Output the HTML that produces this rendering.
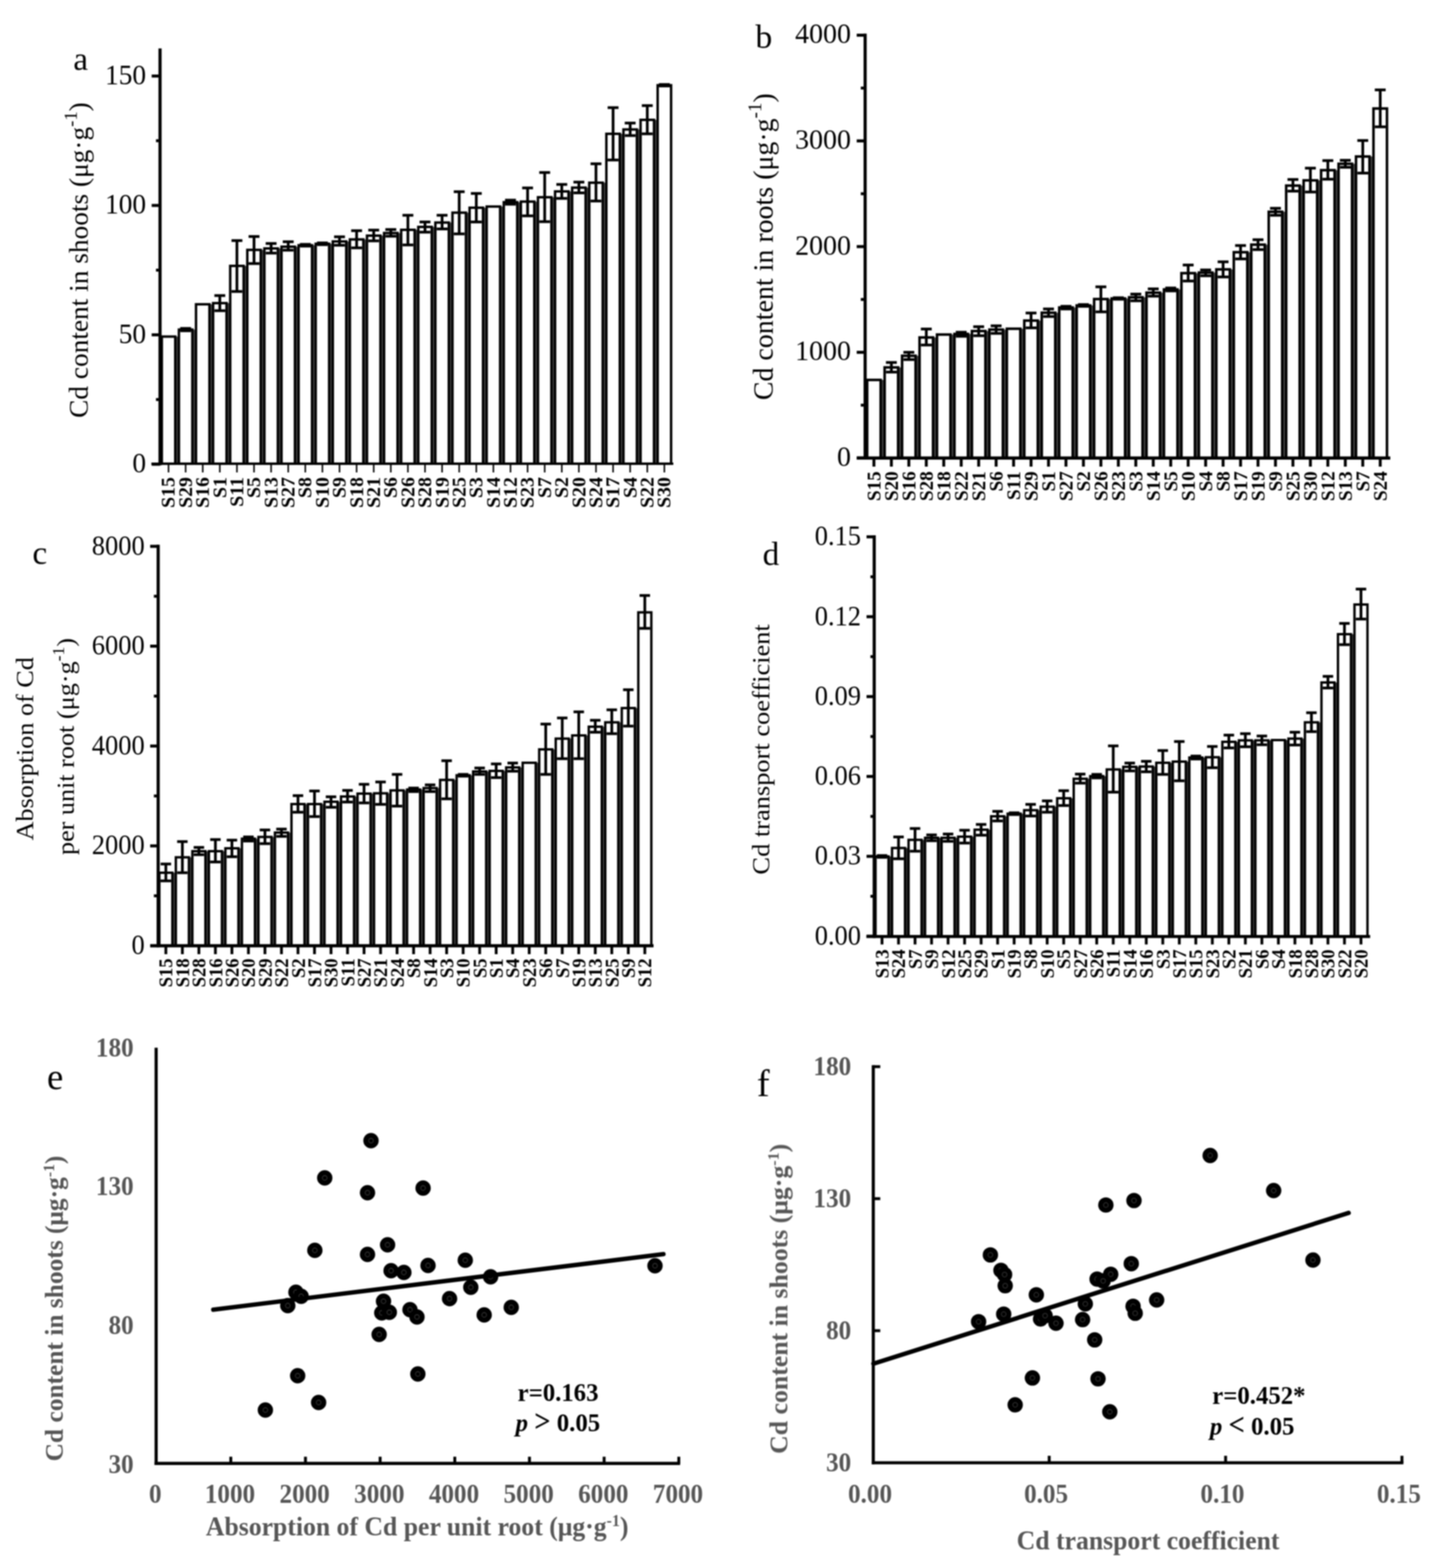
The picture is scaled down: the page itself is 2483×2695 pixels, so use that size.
<!DOCTYPE html>
<html lang="en">
<head>
<meta charset="utf-8">
<title>Cd content figure</title>
<style>
html,body{margin:0;padding:0;background:#fff;}
body{width:2483px;height:2695px;overflow:hidden;}
svg{display:block;font-family:'Liberation Serif','Times New Roman',Times,serif;}
</style>
</head>
<body>
<svg width="2483" height="2695" viewBox="0 0 2483 2695">
<defs><filter id="soft" color-interpolation-filters="sRGB" x="0" y="0" width="2483" height="2695" filterUnits="userSpaceOnUse"><feGaussianBlur stdDeviation="0.8"/></filter></defs>
<rect x="0" y="0" width="2483" height="2695" fill="#fff"/>
<g filter="url(#soft)">
<rect x="301.15" y="578.50" width="6.28" height="218.50" fill="#4a4a4a"/><rect x="330.53" y="566.50" width="6.28" height="230.50" fill="#4a4a4a"/><rect x="359.91" y="523.00" width="6.28" height="274.00" fill="#4a4a4a"/><rect x="389.29" y="521.00" width="6.28" height="276.00" fill="#4a4a4a"/><rect x="418.67" y="457.00" width="6.28" height="340.00" fill="#4a4a4a"/><rect x="448.05" y="429.50" width="6.28" height="367.50" fill="#4a4a4a"/><rect x="477.43" y="427.00" width="6.28" height="370.00" fill="#4a4a4a"/><rect x="506.81" y="424.00" width="6.28" height="373.00" fill="#4a4a4a"/><rect x="536.19" y="421.50" width="6.28" height="375.50" fill="#4a4a4a"/><rect x="565.57" y="419.00" width="6.28" height="378.00" fill="#4a4a4a"/><rect x="594.95" y="415.00" width="6.28" height="382.00" fill="#4a4a4a"/><rect x="624.33" y="411.50" width="6.28" height="385.50" fill="#4a4a4a"/><rect x="653.71" y="405.00" width="6.28" height="392.00" fill="#4a4a4a"/><rect x="683.09" y="400.50" width="6.28" height="396.50" fill="#4a4a4a"/><rect x="712.47" y="395.00" width="6.28" height="402.00" fill="#4a4a4a"/><rect x="741.85" y="390.00" width="6.28" height="407.00" fill="#4a4a4a"/><rect x="771.23" y="382.50" width="6.28" height="414.50" fill="#4a4a4a"/><rect x="800.61" y="365.50" width="6.28" height="431.50" fill="#4a4a4a"/><rect x="829.99" y="357.00" width="6.28" height="440.00" fill="#4a4a4a"/><rect x="859.37" y="355.00" width="6.28" height="442.00" fill="#4a4a4a"/><rect x="888.75" y="347.50" width="6.28" height="449.50" fill="#4a4a4a"/><rect x="918.13" y="346.50" width="6.28" height="450.50" fill="#4a4a4a"/><rect x="947.51" y="339.00" width="6.28" height="458.00" fill="#4a4a4a"/><rect x="976.89" y="329.00" width="6.28" height="468.00" fill="#4a4a4a"/><rect x="1006.27" y="322.50" width="6.28" height="474.50" fill="#4a4a4a"/><rect x="1035.65" y="314.00" width="6.28" height="483.00" fill="#4a4a4a"/><rect x="1065.03" y="230.00" width="6.28" height="567.00" fill="#4a4a4a"/><rect x="1094.41" y="222.50" width="6.28" height="574.50" fill="#4a4a4a"/><rect x="1123.79" y="206.00" width="6.28" height="591.00" fill="#4a4a4a"/><rect x="278.05" y="578.50" width="23.10" height="218.50" fill="#fff" stroke="#000" stroke-width="4.2"/><rect x="307.43" y="566.50" width="23.10" height="230.50" fill="#fff" stroke="#000" stroke-width="4.2"/><line x1="318.98" y1="564.50" x2="318.98" y2="568.50" stroke="#000" stroke-width="4.7" stroke-linecap="butt"/><line x1="309.63" y1="564.50" x2="328.33" y2="564.50" stroke="#000" stroke-width="4.7" stroke-linecap="butt"/><line x1="309.63" y1="568.50" x2="328.33" y2="568.50" stroke="#000" stroke-width="4.7" stroke-linecap="butt"/><rect x="336.81" y="523.00" width="23.10" height="274.00" fill="#fff" stroke="#000" stroke-width="4.2"/><rect x="366.19" y="521.00" width="23.10" height="276.00" fill="#fff" stroke="#000" stroke-width="4.2"/><line x1="377.74" y1="508.00" x2="377.74" y2="534.00" stroke="#000" stroke-width="4.7" stroke-linecap="butt"/><line x1="368.39" y1="508.00" x2="387.09" y2="508.00" stroke="#000" stroke-width="4.7" stroke-linecap="butt"/><line x1="368.39" y1="534.00" x2="387.09" y2="534.00" stroke="#000" stroke-width="4.7" stroke-linecap="butt"/><rect x="395.57" y="457.00" width="23.10" height="340.00" fill="#fff" stroke="#000" stroke-width="4.2"/><line x1="407.12" y1="413.50" x2="407.12" y2="501.00" stroke="#000" stroke-width="4.7" stroke-linecap="butt"/><line x1="397.77" y1="413.50" x2="416.47" y2="413.50" stroke="#000" stroke-width="4.7" stroke-linecap="butt"/><line x1="397.77" y1="501.00" x2="416.47" y2="501.00" stroke="#000" stroke-width="4.7" stroke-linecap="butt"/><rect x="424.95" y="429.50" width="23.10" height="367.50" fill="#fff" stroke="#000" stroke-width="4.2"/><line x1="436.50" y1="406.50" x2="436.50" y2="453.00" stroke="#000" stroke-width="4.7" stroke-linecap="butt"/><line x1="427.15" y1="406.50" x2="445.85" y2="406.50" stroke="#000" stroke-width="4.7" stroke-linecap="butt"/><line x1="427.15" y1="453.00" x2="445.85" y2="453.00" stroke="#000" stroke-width="4.7" stroke-linecap="butt"/><rect x="454.33" y="427.00" width="23.10" height="370.00" fill="#fff" stroke="#000" stroke-width="4.2"/><line x1="465.88" y1="418.50" x2="465.88" y2="435.00" stroke="#000" stroke-width="4.7" stroke-linecap="butt"/><line x1="456.53" y1="418.50" x2="475.23" y2="418.50" stroke="#000" stroke-width="4.7" stroke-linecap="butt"/><line x1="456.53" y1="435.00" x2="475.23" y2="435.00" stroke="#000" stroke-width="4.7" stroke-linecap="butt"/><rect x="483.71" y="424.00" width="23.10" height="373.00" fill="#fff" stroke="#000" stroke-width="4.2"/><line x1="495.26" y1="415.50" x2="495.26" y2="430.00" stroke="#000" stroke-width="4.7" stroke-linecap="butt"/><line x1="485.91" y1="415.50" x2="504.61" y2="415.50" stroke="#000" stroke-width="4.7" stroke-linecap="butt"/><line x1="485.91" y1="430.00" x2="504.61" y2="430.00" stroke="#000" stroke-width="4.7" stroke-linecap="butt"/><rect x="513.09" y="421.50" width="23.10" height="375.50" fill="#fff" stroke="#000" stroke-width="4.2"/><line x1="524.64" y1="420.00" x2="524.64" y2="423.00" stroke="#000" stroke-width="4.7" stroke-linecap="butt"/><line x1="515.29" y1="420.00" x2="533.99" y2="420.00" stroke="#000" stroke-width="4.7" stroke-linecap="butt"/><line x1="515.29" y1="423.00" x2="533.99" y2="423.00" stroke="#000" stroke-width="4.7" stroke-linecap="butt"/><rect x="542.47" y="419.00" width="23.10" height="378.00" fill="#fff" stroke="#000" stroke-width="4.2"/><line x1="554.02" y1="417.50" x2="554.02" y2="420.50" stroke="#000" stroke-width="4.7" stroke-linecap="butt"/><line x1="544.67" y1="417.50" x2="563.37" y2="417.50" stroke="#000" stroke-width="4.7" stroke-linecap="butt"/><line x1="544.67" y1="420.50" x2="563.37" y2="420.50" stroke="#000" stroke-width="4.7" stroke-linecap="butt"/><rect x="571.85" y="415.00" width="23.10" height="382.00" fill="#fff" stroke="#000" stroke-width="4.2"/><line x1="583.40" y1="407.00" x2="583.40" y2="421.50" stroke="#000" stroke-width="4.7" stroke-linecap="butt"/><line x1="574.05" y1="407.00" x2="592.75" y2="407.00" stroke="#000" stroke-width="4.7" stroke-linecap="butt"/><line x1="574.05" y1="421.50" x2="592.75" y2="421.50" stroke="#000" stroke-width="4.7" stroke-linecap="butt"/><rect x="601.23" y="411.50" width="23.10" height="385.50" fill="#fff" stroke="#000" stroke-width="4.2"/><line x1="612.78" y1="396.50" x2="612.78" y2="426.00" stroke="#000" stroke-width="4.7" stroke-linecap="butt"/><line x1="603.43" y1="396.50" x2="622.13" y2="396.50" stroke="#000" stroke-width="4.7" stroke-linecap="butt"/><line x1="603.43" y1="426.00" x2="622.13" y2="426.00" stroke="#000" stroke-width="4.7" stroke-linecap="butt"/><rect x="630.61" y="405.00" width="23.10" height="392.00" fill="#fff" stroke="#000" stroke-width="4.2"/><line x1="642.16" y1="395.50" x2="642.16" y2="414.00" stroke="#000" stroke-width="4.7" stroke-linecap="butt"/><line x1="632.81" y1="395.50" x2="651.51" y2="395.50" stroke="#000" stroke-width="4.7" stroke-linecap="butt"/><line x1="632.81" y1="414.00" x2="651.51" y2="414.00" stroke="#000" stroke-width="4.7" stroke-linecap="butt"/><rect x="659.99" y="400.50" width="23.10" height="396.50" fill="#fff" stroke="#000" stroke-width="4.2"/><line x1="671.54" y1="394.50" x2="671.54" y2="406.00" stroke="#000" stroke-width="4.7" stroke-linecap="butt"/><line x1="662.19" y1="394.50" x2="680.89" y2="394.50" stroke="#000" stroke-width="4.7" stroke-linecap="butt"/><line x1="662.19" y1="406.00" x2="680.89" y2="406.00" stroke="#000" stroke-width="4.7" stroke-linecap="butt"/><rect x="689.37" y="395.00" width="23.10" height="402.00" fill="#fff" stroke="#000" stroke-width="4.2"/><line x1="700.92" y1="370.00" x2="700.92" y2="421.00" stroke="#000" stroke-width="4.7" stroke-linecap="butt"/><line x1="691.57" y1="370.00" x2="710.27" y2="370.00" stroke="#000" stroke-width="4.7" stroke-linecap="butt"/><line x1="691.57" y1="421.00" x2="710.27" y2="421.00" stroke="#000" stroke-width="4.7" stroke-linecap="butt"/><rect x="718.75" y="390.00" width="23.10" height="407.00" fill="#fff" stroke="#000" stroke-width="4.2"/><line x1="730.30" y1="381.50" x2="730.30" y2="399.00" stroke="#000" stroke-width="4.7" stroke-linecap="butt"/><line x1="720.95" y1="381.50" x2="739.65" y2="381.50" stroke="#000" stroke-width="4.7" stroke-linecap="butt"/><line x1="720.95" y1="399.00" x2="739.65" y2="399.00" stroke="#000" stroke-width="4.7" stroke-linecap="butt"/><rect x="748.13" y="382.50" width="23.10" height="414.50" fill="#fff" stroke="#000" stroke-width="4.2"/><line x1="759.68" y1="370.00" x2="759.68" y2="393.50" stroke="#000" stroke-width="4.7" stroke-linecap="butt"/><line x1="750.33" y1="370.00" x2="769.03" y2="370.00" stroke="#000" stroke-width="4.7" stroke-linecap="butt"/><line x1="750.33" y1="393.50" x2="769.03" y2="393.50" stroke="#000" stroke-width="4.7" stroke-linecap="butt"/><rect x="777.51" y="365.50" width="23.10" height="431.50" fill="#fff" stroke="#000" stroke-width="4.2"/><line x1="789.06" y1="329.50" x2="789.06" y2="402.00" stroke="#000" stroke-width="4.7" stroke-linecap="butt"/><line x1="779.71" y1="329.50" x2="798.41" y2="329.50" stroke="#000" stroke-width="4.7" stroke-linecap="butt"/><line x1="779.71" y1="402.00" x2="798.41" y2="402.00" stroke="#000" stroke-width="4.7" stroke-linecap="butt"/><rect x="806.89" y="357.00" width="23.10" height="440.00" fill="#fff" stroke="#000" stroke-width="4.2"/><line x1="818.44" y1="332.50" x2="818.44" y2="381.50" stroke="#000" stroke-width="4.7" stroke-linecap="butt"/><line x1="809.09" y1="332.50" x2="827.79" y2="332.50" stroke="#000" stroke-width="4.7" stroke-linecap="butt"/><line x1="809.09" y1="381.50" x2="827.79" y2="381.50" stroke="#000" stroke-width="4.7" stroke-linecap="butt"/><rect x="836.27" y="355.00" width="23.10" height="442.00" fill="#fff" stroke="#000" stroke-width="4.2"/><rect x="865.65" y="347.50" width="23.10" height="449.50" fill="#fff" stroke="#000" stroke-width="4.2"/><line x1="877.20" y1="344.00" x2="877.20" y2="351.00" stroke="#000" stroke-width="4.7" stroke-linecap="butt"/><line x1="867.85" y1="344.00" x2="886.55" y2="344.00" stroke="#000" stroke-width="4.7" stroke-linecap="butt"/><line x1="867.85" y1="351.00" x2="886.55" y2="351.00" stroke="#000" stroke-width="4.7" stroke-linecap="butt"/><rect x="895.03" y="346.50" width="23.10" height="450.50" fill="#fff" stroke="#000" stroke-width="4.2"/><line x1="906.58" y1="323.00" x2="906.58" y2="371.00" stroke="#000" stroke-width="4.7" stroke-linecap="butt"/><line x1="897.23" y1="323.00" x2="915.93" y2="323.00" stroke="#000" stroke-width="4.7" stroke-linecap="butt"/><line x1="897.23" y1="371.00" x2="915.93" y2="371.00" stroke="#000" stroke-width="4.7" stroke-linecap="butt"/><rect x="924.41" y="339.00" width="23.10" height="458.00" fill="#fff" stroke="#000" stroke-width="4.2"/><line x1="935.96" y1="296.50" x2="935.96" y2="381.00" stroke="#000" stroke-width="4.7" stroke-linecap="butt"/><line x1="926.61" y1="296.50" x2="945.31" y2="296.50" stroke="#000" stroke-width="4.7" stroke-linecap="butt"/><line x1="926.61" y1="381.00" x2="945.31" y2="381.00" stroke="#000" stroke-width="4.7" stroke-linecap="butt"/><rect x="953.79" y="329.00" width="23.10" height="468.00" fill="#fff" stroke="#000" stroke-width="4.2"/><line x1="965.34" y1="317.00" x2="965.34" y2="341.00" stroke="#000" stroke-width="4.7" stroke-linecap="butt"/><line x1="955.99" y1="317.00" x2="974.69" y2="317.00" stroke="#000" stroke-width="4.7" stroke-linecap="butt"/><line x1="955.99" y1="341.00" x2="974.69" y2="341.00" stroke="#000" stroke-width="4.7" stroke-linecap="butt"/><rect x="983.17" y="322.50" width="23.10" height="474.50" fill="#fff" stroke="#000" stroke-width="4.2"/><line x1="994.72" y1="313.00" x2="994.72" y2="331.50" stroke="#000" stroke-width="4.7" stroke-linecap="butt"/><line x1="985.37" y1="313.00" x2="1004.07" y2="313.00" stroke="#000" stroke-width="4.7" stroke-linecap="butt"/><line x1="985.37" y1="331.50" x2="1004.07" y2="331.50" stroke="#000" stroke-width="4.7" stroke-linecap="butt"/><rect x="1012.55" y="314.00" width="23.10" height="483.00" fill="#fff" stroke="#000" stroke-width="4.2"/><line x1="1024.10" y1="281.50" x2="1024.10" y2="345.50" stroke="#000" stroke-width="4.7" stroke-linecap="butt"/><line x1="1014.75" y1="281.50" x2="1033.45" y2="281.50" stroke="#000" stroke-width="4.7" stroke-linecap="butt"/><line x1="1014.75" y1="345.50" x2="1033.45" y2="345.50" stroke="#000" stroke-width="4.7" stroke-linecap="butt"/><rect x="1041.93" y="230.00" width="23.10" height="567.00" fill="#fff" stroke="#000" stroke-width="4.2"/><line x1="1053.48" y1="185.00" x2="1053.48" y2="275.00" stroke="#000" stroke-width="4.7" stroke-linecap="butt"/><line x1="1044.13" y1="185.00" x2="1062.83" y2="185.00" stroke="#000" stroke-width="4.7" stroke-linecap="butt"/><line x1="1044.13" y1="275.00" x2="1062.83" y2="275.00" stroke="#000" stroke-width="4.7" stroke-linecap="butt"/><rect x="1071.31" y="222.50" width="23.10" height="574.50" fill="#fff" stroke="#000" stroke-width="4.2"/><line x1="1082.86" y1="211.50" x2="1082.86" y2="233.00" stroke="#000" stroke-width="4.7" stroke-linecap="butt"/><line x1="1073.51" y1="211.50" x2="1092.21" y2="211.50" stroke="#000" stroke-width="4.7" stroke-linecap="butt"/><line x1="1073.51" y1="233.00" x2="1092.21" y2="233.00" stroke="#000" stroke-width="4.7" stroke-linecap="butt"/><rect x="1100.69" y="206.00" width="23.10" height="591.00" fill="#fff" stroke="#000" stroke-width="4.2"/><line x1="1112.24" y1="181.50" x2="1112.24" y2="230.00" stroke="#000" stroke-width="4.7" stroke-linecap="butt"/><line x1="1102.89" y1="181.50" x2="1121.59" y2="181.50" stroke="#000" stroke-width="4.7" stroke-linecap="butt"/><line x1="1102.89" y1="230.00" x2="1121.59" y2="230.00" stroke="#000" stroke-width="4.7" stroke-linecap="butt"/><rect x="1130.07" y="146.50" width="23.10" height="650.50" fill="#fff" stroke="#000" stroke-width="4.2"/><line x1="1141.62" y1="145.25" x2="1141.62" y2="147.75" stroke="#000" stroke-width="4.7" stroke-linecap="butt"/><line x1="1132.27" y1="145.25" x2="1150.97" y2="145.25" stroke="#000" stroke-width="4.7" stroke-linecap="butt"/><line x1="1132.27" y1="147.75" x2="1150.97" y2="147.75" stroke="#000" stroke-width="4.7" stroke-linecap="butt"/><line x1="260.20" y1="797.00" x2="1157.00" y2="797.00" stroke="#000" stroke-width="3.8" stroke-linecap="butt"/><line x1="289.60" y1="797.00" x2="289.60" y2="812.00" stroke="#000" stroke-width="2.6" stroke-linecap="butt"/><line x1="318.98" y1="797.00" x2="318.98" y2="812.00" stroke="#000" stroke-width="2.6" stroke-linecap="butt"/><line x1="348.36" y1="797.00" x2="348.36" y2="812.00" stroke="#000" stroke-width="2.6" stroke-linecap="butt"/><line x1="377.74" y1="797.00" x2="377.74" y2="812.00" stroke="#000" stroke-width="2.6" stroke-linecap="butt"/><line x1="407.12" y1="797.00" x2="407.12" y2="812.00" stroke="#000" stroke-width="2.6" stroke-linecap="butt"/><line x1="436.50" y1="797.00" x2="436.50" y2="812.00" stroke="#000" stroke-width="2.6" stroke-linecap="butt"/><line x1="465.88" y1="797.00" x2="465.88" y2="812.00" stroke="#000" stroke-width="2.6" stroke-linecap="butt"/><line x1="495.26" y1="797.00" x2="495.26" y2="812.00" stroke="#000" stroke-width="2.6" stroke-linecap="butt"/><line x1="524.64" y1="797.00" x2="524.64" y2="812.00" stroke="#000" stroke-width="2.6" stroke-linecap="butt"/><line x1="554.02" y1="797.00" x2="554.02" y2="812.00" stroke="#000" stroke-width="2.6" stroke-linecap="butt"/><line x1="583.40" y1="797.00" x2="583.40" y2="812.00" stroke="#000" stroke-width="2.6" stroke-linecap="butt"/><line x1="612.78" y1="797.00" x2="612.78" y2="812.00" stroke="#000" stroke-width="2.6" stroke-linecap="butt"/><line x1="642.16" y1="797.00" x2="642.16" y2="812.00" stroke="#000" stroke-width="2.6" stroke-linecap="butt"/><line x1="671.54" y1="797.00" x2="671.54" y2="812.00" stroke="#000" stroke-width="2.6" stroke-linecap="butt"/><line x1="700.92" y1="797.00" x2="700.92" y2="812.00" stroke="#000" stroke-width="2.6" stroke-linecap="butt"/><line x1="730.30" y1="797.00" x2="730.30" y2="812.00" stroke="#000" stroke-width="2.6" stroke-linecap="butt"/><line x1="759.68" y1="797.00" x2="759.68" y2="812.00" stroke="#000" stroke-width="2.6" stroke-linecap="butt"/><line x1="789.06" y1="797.00" x2="789.06" y2="812.00" stroke="#000" stroke-width="2.6" stroke-linecap="butt"/><line x1="818.44" y1="797.00" x2="818.44" y2="812.00" stroke="#000" stroke-width="2.6" stroke-linecap="butt"/><line x1="847.82" y1="797.00" x2="847.82" y2="812.00" stroke="#000" stroke-width="2.6" stroke-linecap="butt"/><line x1="877.20" y1="797.00" x2="877.20" y2="812.00" stroke="#000" stroke-width="2.6" stroke-linecap="butt"/><line x1="906.58" y1="797.00" x2="906.58" y2="812.00" stroke="#000" stroke-width="2.6" stroke-linecap="butt"/><line x1="935.96" y1="797.00" x2="935.96" y2="812.00" stroke="#000" stroke-width="2.6" stroke-linecap="butt"/><line x1="965.34" y1="797.00" x2="965.34" y2="812.00" stroke="#000" stroke-width="2.6" stroke-linecap="butt"/><line x1="994.72" y1="797.00" x2="994.72" y2="812.00" stroke="#000" stroke-width="2.6" stroke-linecap="butt"/><line x1="1024.10" y1="797.00" x2="1024.10" y2="812.00" stroke="#000" stroke-width="2.6" stroke-linecap="butt"/><line x1="1053.48" y1="797.00" x2="1053.48" y2="812.00" stroke="#000" stroke-width="2.6" stroke-linecap="butt"/><line x1="1082.86" y1="797.00" x2="1082.86" y2="812.00" stroke="#000" stroke-width="2.6" stroke-linecap="butt"/><line x1="1112.24" y1="797.00" x2="1112.24" y2="812.00" stroke="#000" stroke-width="2.6" stroke-linecap="butt"/><line x1="1141.62" y1="797.00" x2="1141.62" y2="812.00" stroke="#000" stroke-width="2.6" stroke-linecap="butt"/><line x1="275.00" y1="83.30" x2="275.00" y2="799.70" stroke="#000" stroke-width="5.4" stroke-linecap="butt"/><line x1="260.60" y1="130.70" x2="275.00" y2="130.70" stroke="#000" stroke-width="5.2" stroke-linecap="butt"/><line x1="268.00" y1="241.90" x2="275.00" y2="241.90" stroke="#000" stroke-width="5.0" stroke-linecap="butt"/><line x1="260.60" y1="353.10" x2="275.00" y2="353.10" stroke="#000" stroke-width="5.2" stroke-linecap="butt"/><line x1="268.00" y1="464.30" x2="275.00" y2="464.30" stroke="#000" stroke-width="5.0" stroke-linecap="butt"/><line x1="260.60" y1="575.50" x2="275.00" y2="575.50" stroke="#000" stroke-width="5.2" stroke-linecap="butt"/><line x1="268.00" y1="686.70" x2="275.00" y2="686.70" stroke="#000" stroke-width="5.0" stroke-linecap="butt"/><line x1="260.60" y1="797.90" x2="275.00" y2="797.90" stroke="#000" stroke-width="5.2" stroke-linecap="butt"/><text transform="translate(251.00 144.98) scale(0.9790 1)" font-size="48" text-anchor="end" font-weight="normal" font-style="normal" fill="#000">150</text><text transform="translate(251.00 367.38) scale(0.9790 1)" font-size="48" text-anchor="end" font-weight="normal" font-style="normal" fill="#000">100</text><text transform="translate(251.00 589.78) scale(0.9790 1)" font-size="48" text-anchor="end" font-weight="normal" font-style="normal" fill="#000">50</text><text transform="translate(251.00 812.18) scale(0.9790 1)" font-size="48" text-anchor="end" font-weight="normal" font-style="normal" fill="#000">0</text><text transform="translate(300.44 820.00) scale(1.0200 1) rotate(-90)" font-size="34" text-anchor="end" font-weight="bold" font-style="normal" fill="#000">S15</text><text transform="translate(329.82 820.00) scale(1.0200 1) rotate(-90)" font-size="34" text-anchor="end" font-weight="bold" font-style="normal" fill="#000">S29</text><text transform="translate(359.20 820.00) scale(1.0200 1) rotate(-90)" font-size="34" text-anchor="end" font-weight="bold" font-style="normal" fill="#000">S16</text><text transform="translate(388.58 820.00) scale(1.0200 1) rotate(-90)" font-size="34" text-anchor="end" font-weight="bold" font-style="normal" fill="#000">S1</text><text transform="translate(417.96 820.00) scale(1.0200 1) rotate(-90)" font-size="34" text-anchor="end" font-weight="bold" font-style="normal" fill="#000">S11</text><text transform="translate(447.34 820.00) scale(1.0200 1) rotate(-90)" font-size="34" text-anchor="end" font-weight="bold" font-style="normal" fill="#000">S5</text><text transform="translate(476.72 820.00) scale(1.0200 1) rotate(-90)" font-size="34" text-anchor="end" font-weight="bold" font-style="normal" fill="#000">S13</text><text transform="translate(506.10 820.00) scale(1.0200 1) rotate(-90)" font-size="34" text-anchor="end" font-weight="bold" font-style="normal" fill="#000">S27</text><text transform="translate(535.48 820.00) scale(1.0200 1) rotate(-90)" font-size="34" text-anchor="end" font-weight="bold" font-style="normal" fill="#000">S8</text><text transform="translate(564.86 820.00) scale(1.0200 1) rotate(-90)" font-size="34" text-anchor="end" font-weight="bold" font-style="normal" fill="#000">S10</text><text transform="translate(594.24 820.00) scale(1.0200 1) rotate(-90)" font-size="34" text-anchor="end" font-weight="bold" font-style="normal" fill="#000">S9</text><text transform="translate(623.62 820.00) scale(1.0200 1) rotate(-90)" font-size="34" text-anchor="end" font-weight="bold" font-style="normal" fill="#000">S18</text><text transform="translate(653.00 820.00) scale(1.0200 1) rotate(-90)" font-size="34" text-anchor="end" font-weight="bold" font-style="normal" fill="#000">S21</text><text transform="translate(682.38 820.00) scale(1.0200 1) rotate(-90)" font-size="34" text-anchor="end" font-weight="bold" font-style="normal" fill="#000">S6</text><text transform="translate(711.76 820.00) scale(1.0200 1) rotate(-90)" font-size="34" text-anchor="end" font-weight="bold" font-style="normal" fill="#000">S26</text><text transform="translate(741.14 820.00) scale(1.0200 1) rotate(-90)" font-size="34" text-anchor="end" font-weight="bold" font-style="normal" fill="#000">S28</text><text transform="translate(770.52 820.00) scale(1.0200 1) rotate(-90)" font-size="34" text-anchor="end" font-weight="bold" font-style="normal" fill="#000">S19</text><text transform="translate(799.90 820.00) scale(1.0200 1) rotate(-90)" font-size="34" text-anchor="end" font-weight="bold" font-style="normal" fill="#000">S25</text><text transform="translate(829.28 820.00) scale(1.0200 1) rotate(-90)" font-size="34" text-anchor="end" font-weight="bold" font-style="normal" fill="#000">S3</text><text transform="translate(858.66 820.00) scale(1.0200 1) rotate(-90)" font-size="34" text-anchor="end" font-weight="bold" font-style="normal" fill="#000">S14</text><text transform="translate(888.04 820.00) scale(1.0200 1) rotate(-90)" font-size="34" text-anchor="end" font-weight="bold" font-style="normal" fill="#000">S12</text><text transform="translate(917.42 820.00) scale(1.0200 1) rotate(-90)" font-size="34" text-anchor="end" font-weight="bold" font-style="normal" fill="#000">S23</text><text transform="translate(946.80 820.00) scale(1.0200 1) rotate(-90)" font-size="34" text-anchor="end" font-weight="bold" font-style="normal" fill="#000">S7</text><text transform="translate(976.18 820.00) scale(1.0200 1) rotate(-90)" font-size="34" text-anchor="end" font-weight="bold" font-style="normal" fill="#000">S2</text><text transform="translate(1005.56 820.00) scale(1.0200 1) rotate(-90)" font-size="34" text-anchor="end" font-weight="bold" font-style="normal" fill="#000">S20</text><text transform="translate(1034.94 820.00) scale(1.0200 1) rotate(-90)" font-size="34" text-anchor="end" font-weight="bold" font-style="normal" fill="#000">S24</text><text transform="translate(1064.32 820.00) scale(1.0200 1) rotate(-90)" font-size="34" text-anchor="end" font-weight="bold" font-style="normal" fill="#000">S17</text><text transform="translate(1093.70 820.00) scale(1.0200 1) rotate(-90)" font-size="34" text-anchor="end" font-weight="bold" font-style="normal" fill="#000">S4</text><text transform="translate(1123.08 820.00) scale(1.0200 1) rotate(-90)" font-size="34" text-anchor="end" font-weight="bold" font-style="normal" fill="#000">S22</text><text transform="translate(1152.46 820.00) scale(1.0200 1) rotate(-90)" font-size="34" text-anchor="end" font-weight="bold" font-style="normal" fill="#000">S30</text><text transform="translate(150.80 447.00) scale(0.9790 1) rotate(-90)" font-size="47" text-anchor="middle" font-weight="normal" font-style="normal" fill="#000">Cd content in shoots (μg·g<tspan font-size="68%" dy="-0.6em">-1</tspan><tspan dy="0.408em">)</tspan></text><text transform="translate(125.90 120.00)" font-size="57" text-anchor="start" font-weight="normal" font-style="normal" fill="#000">a</text><rect x="1513.30" y="653.00" width="6.80" height="134.20" fill="#4a4a4a"/><rect x="1543.30" y="631.50" width="6.80" height="155.70" fill="#4a4a4a"/><rect x="1573.30" y="611.50" width="6.80" height="175.70" fill="#4a4a4a"/><rect x="1603.30" y="580.00" width="6.80" height="207.20" fill="#4a4a4a"/><rect x="1633.30" y="575.00" width="6.80" height="212.20" fill="#4a4a4a"/><rect x="1663.30" y="574.00" width="6.80" height="213.20" fill="#4a4a4a"/><rect x="1693.30" y="569.00" width="6.80" height="218.20" fill="#4a4a4a"/><rect x="1723.30" y="566.50" width="6.80" height="220.70" fill="#4a4a4a"/><rect x="1753.30" y="565.00" width="6.80" height="222.20" fill="#4a4a4a"/><rect x="1783.30" y="551.00" width="6.80" height="236.20" fill="#4a4a4a"/><rect x="1813.30" y="537.50" width="6.80" height="249.70" fill="#4a4a4a"/><rect x="1843.30" y="528.50" width="6.80" height="258.70" fill="#4a4a4a"/><rect x="1873.30" y="525.00" width="6.80" height="262.20" fill="#4a4a4a"/><rect x="1903.30" y="514.00" width="6.80" height="273.20" fill="#4a4a4a"/><rect x="1933.30" y="513.00" width="6.80" height="274.20" fill="#4a4a4a"/><rect x="1963.30" y="511.00" width="6.80" height="276.20" fill="#4a4a4a"/><rect x="1993.30" y="503.00" width="6.80" height="284.20" fill="#4a4a4a"/><rect x="2023.30" y="497.50" width="6.80" height="289.70" fill="#4a4a4a"/><rect x="2053.30" y="469.50" width="6.80" height="317.70" fill="#4a4a4a"/><rect x="2083.30" y="468.50" width="6.80" height="318.70" fill="#4a4a4a"/><rect x="2113.30" y="463.00" width="6.80" height="324.20" fill="#4a4a4a"/><rect x="2143.30" y="433.50" width="6.80" height="353.70" fill="#4a4a4a"/><rect x="2173.30" y="420.50" width="6.80" height="366.70" fill="#4a4a4a"/><rect x="2203.30" y="364.00" width="6.80" height="423.20" fill="#4a4a4a"/><rect x="2233.30" y="319.00" width="6.80" height="468.20" fill="#4a4a4a"/><rect x="2263.30" y="310.00" width="6.80" height="477.20" fill="#4a4a4a"/><rect x="2293.30" y="292.50" width="6.80" height="494.70" fill="#4a4a4a"/><rect x="2323.30" y="281.50" width="6.80" height="505.70" fill="#4a4a4a"/><rect x="2353.30" y="269.00" width="6.80" height="518.20" fill="#4a4a4a"/><rect x="1490.10" y="653.00" width="23.20" height="134.20" fill="#fff" stroke="#000" stroke-width="4.4"/><rect x="1520.10" y="631.50" width="23.20" height="155.70" fill="#fff" stroke="#000" stroke-width="4.4"/><line x1="1531.70" y1="623.00" x2="1531.70" y2="639.50" stroke="#000" stroke-width="4.7" stroke-linecap="butt"/><line x1="1522.35" y1="623.00" x2="1541.05" y2="623.00" stroke="#000" stroke-width="4.7" stroke-linecap="butt"/><line x1="1522.35" y1="639.50" x2="1541.05" y2="639.50" stroke="#000" stroke-width="4.7" stroke-linecap="butt"/><rect x="1550.10" y="611.50" width="23.20" height="175.70" fill="#fff" stroke="#000" stroke-width="4.4"/><line x1="1561.70" y1="605.50" x2="1561.70" y2="618.00" stroke="#000" stroke-width="4.7" stroke-linecap="butt"/><line x1="1552.35" y1="605.50" x2="1571.05" y2="605.50" stroke="#000" stroke-width="4.7" stroke-linecap="butt"/><line x1="1552.35" y1="618.00" x2="1571.05" y2="618.00" stroke="#000" stroke-width="4.7" stroke-linecap="butt"/><rect x="1580.10" y="580.00" width="23.20" height="207.20" fill="#fff" stroke="#000" stroke-width="4.4"/><line x1="1591.70" y1="565.50" x2="1591.70" y2="593.00" stroke="#000" stroke-width="4.7" stroke-linecap="butt"/><line x1="1582.35" y1="565.50" x2="1601.05" y2="565.50" stroke="#000" stroke-width="4.7" stroke-linecap="butt"/><line x1="1582.35" y1="593.00" x2="1601.05" y2="593.00" stroke="#000" stroke-width="4.7" stroke-linecap="butt"/><rect x="1610.10" y="575.00" width="23.20" height="212.20" fill="#fff" stroke="#000" stroke-width="4.4"/><rect x="1640.10" y="574.00" width="23.20" height="213.20" fill="#fff" stroke="#000" stroke-width="4.4"/><line x1="1651.70" y1="571.00" x2="1651.70" y2="578.00" stroke="#000" stroke-width="4.7" stroke-linecap="butt"/><line x1="1642.35" y1="571.00" x2="1661.05" y2="571.00" stroke="#000" stroke-width="4.7" stroke-linecap="butt"/><line x1="1642.35" y1="578.00" x2="1661.05" y2="578.00" stroke="#000" stroke-width="4.7" stroke-linecap="butt"/><rect x="1670.10" y="569.00" width="23.20" height="218.20" fill="#fff" stroke="#000" stroke-width="4.4"/><line x1="1681.70" y1="561.50" x2="1681.70" y2="577.00" stroke="#000" stroke-width="4.7" stroke-linecap="butt"/><line x1="1672.35" y1="561.50" x2="1691.05" y2="561.50" stroke="#000" stroke-width="4.7" stroke-linecap="butt"/><line x1="1672.35" y1="577.00" x2="1691.05" y2="577.00" stroke="#000" stroke-width="4.7" stroke-linecap="butt"/><rect x="1700.10" y="566.50" width="23.20" height="220.70" fill="#fff" stroke="#000" stroke-width="4.4"/><line x1="1711.70" y1="560.00" x2="1711.70" y2="573.00" stroke="#000" stroke-width="4.7" stroke-linecap="butt"/><line x1="1702.35" y1="560.00" x2="1721.05" y2="560.00" stroke="#000" stroke-width="4.7" stroke-linecap="butt"/><line x1="1702.35" y1="573.00" x2="1721.05" y2="573.00" stroke="#000" stroke-width="4.7" stroke-linecap="butt"/><rect x="1730.10" y="565.00" width="23.20" height="222.20" fill="#fff" stroke="#000" stroke-width="4.4"/><rect x="1760.10" y="551.00" width="23.20" height="236.20" fill="#fff" stroke="#000" stroke-width="4.4"/><line x1="1771.70" y1="538.00" x2="1771.70" y2="563.50" stroke="#000" stroke-width="4.7" stroke-linecap="butt"/><line x1="1762.35" y1="538.00" x2="1781.05" y2="538.00" stroke="#000" stroke-width="4.7" stroke-linecap="butt"/><line x1="1762.35" y1="563.50" x2="1781.05" y2="563.50" stroke="#000" stroke-width="4.7" stroke-linecap="butt"/><rect x="1790.10" y="537.50" width="23.20" height="249.70" fill="#fff" stroke="#000" stroke-width="4.4"/><line x1="1801.70" y1="531.00" x2="1801.70" y2="544.00" stroke="#000" stroke-width="4.7" stroke-linecap="butt"/><line x1="1792.35" y1="531.00" x2="1811.05" y2="531.00" stroke="#000" stroke-width="4.7" stroke-linecap="butt"/><line x1="1792.35" y1="544.00" x2="1811.05" y2="544.00" stroke="#000" stroke-width="4.7" stroke-linecap="butt"/><rect x="1820.10" y="528.50" width="23.20" height="258.70" fill="#fff" stroke="#000" stroke-width="4.4"/><line x1="1831.70" y1="526.50" x2="1831.70" y2="531.00" stroke="#000" stroke-width="4.7" stroke-linecap="butt"/><line x1="1822.35" y1="526.50" x2="1841.05" y2="526.50" stroke="#000" stroke-width="4.7" stroke-linecap="butt"/><line x1="1822.35" y1="531.00" x2="1841.05" y2="531.00" stroke="#000" stroke-width="4.7" stroke-linecap="butt"/><rect x="1850.10" y="525.00" width="23.20" height="262.20" fill="#fff" stroke="#000" stroke-width="4.4"/><line x1="1861.70" y1="523.50" x2="1861.70" y2="526.50" stroke="#000" stroke-width="4.7" stroke-linecap="butt"/><line x1="1852.35" y1="523.50" x2="1871.05" y2="523.50" stroke="#000" stroke-width="4.7" stroke-linecap="butt"/><line x1="1852.35" y1="526.50" x2="1871.05" y2="526.50" stroke="#000" stroke-width="4.7" stroke-linecap="butt"/><rect x="1880.10" y="514.00" width="23.20" height="273.20" fill="#fff" stroke="#000" stroke-width="4.4"/><line x1="1891.70" y1="493.00" x2="1891.70" y2="536.00" stroke="#000" stroke-width="4.7" stroke-linecap="butt"/><line x1="1882.35" y1="493.00" x2="1901.05" y2="493.00" stroke="#000" stroke-width="4.7" stroke-linecap="butt"/><line x1="1882.35" y1="536.00" x2="1901.05" y2="536.00" stroke="#000" stroke-width="4.7" stroke-linecap="butt"/><rect x="1910.10" y="513.00" width="23.20" height="274.20" fill="#fff" stroke="#000" stroke-width="4.4"/><line x1="1921.70" y1="511.75" x2="1921.70" y2="514.25" stroke="#000" stroke-width="4.7" stroke-linecap="butt"/><line x1="1912.35" y1="511.75" x2="1931.05" y2="511.75" stroke="#000" stroke-width="4.7" stroke-linecap="butt"/><line x1="1912.35" y1="514.25" x2="1931.05" y2="514.25" stroke="#000" stroke-width="4.7" stroke-linecap="butt"/><rect x="1940.10" y="511.00" width="23.20" height="276.20" fill="#fff" stroke="#000" stroke-width="4.4"/><line x1="1951.70" y1="505.50" x2="1951.70" y2="517.00" stroke="#000" stroke-width="4.7" stroke-linecap="butt"/><line x1="1942.35" y1="505.50" x2="1961.05" y2="505.50" stroke="#000" stroke-width="4.7" stroke-linecap="butt"/><line x1="1942.35" y1="517.00" x2="1961.05" y2="517.00" stroke="#000" stroke-width="4.7" stroke-linecap="butt"/><rect x="1970.10" y="503.00" width="23.20" height="284.20" fill="#fff" stroke="#000" stroke-width="4.4"/><line x1="1981.70" y1="496.50" x2="1981.70" y2="509.00" stroke="#000" stroke-width="4.7" stroke-linecap="butt"/><line x1="1972.35" y1="496.50" x2="1991.05" y2="496.50" stroke="#000" stroke-width="4.7" stroke-linecap="butt"/><line x1="1972.35" y1="509.00" x2="1991.05" y2="509.00" stroke="#000" stroke-width="4.7" stroke-linecap="butt"/><rect x="2000.10" y="497.50" width="23.20" height="289.70" fill="#fff" stroke="#000" stroke-width="4.4"/><line x1="2011.70" y1="495.00" x2="2011.70" y2="500.00" stroke="#000" stroke-width="4.7" stroke-linecap="butt"/><line x1="2002.35" y1="495.00" x2="2021.05" y2="495.00" stroke="#000" stroke-width="4.7" stroke-linecap="butt"/><line x1="2002.35" y1="500.00" x2="2021.05" y2="500.00" stroke="#000" stroke-width="4.7" stroke-linecap="butt"/><rect x="2030.10" y="469.50" width="23.20" height="317.70" fill="#fff" stroke="#000" stroke-width="4.4"/><line x1="2041.70" y1="455.50" x2="2041.70" y2="483.00" stroke="#000" stroke-width="4.7" stroke-linecap="butt"/><line x1="2032.35" y1="455.50" x2="2051.05" y2="455.50" stroke="#000" stroke-width="4.7" stroke-linecap="butt"/><line x1="2032.35" y1="483.00" x2="2051.05" y2="483.00" stroke="#000" stroke-width="4.7" stroke-linecap="butt"/><rect x="2060.10" y="468.50" width="23.20" height="318.70" fill="#fff" stroke="#000" stroke-width="4.4"/><line x1="2071.70" y1="464.00" x2="2071.70" y2="474.00" stroke="#000" stroke-width="4.7" stroke-linecap="butt"/><line x1="2062.35" y1="464.00" x2="2081.05" y2="464.00" stroke="#000" stroke-width="4.7" stroke-linecap="butt"/><line x1="2062.35" y1="474.00" x2="2081.05" y2="474.00" stroke="#000" stroke-width="4.7" stroke-linecap="butt"/><rect x="2090.10" y="463.00" width="23.20" height="324.20" fill="#fff" stroke="#000" stroke-width="4.4"/><line x1="2101.70" y1="450.00" x2="2101.70" y2="476.00" stroke="#000" stroke-width="4.7" stroke-linecap="butt"/><line x1="2092.35" y1="450.00" x2="2111.05" y2="450.00" stroke="#000" stroke-width="4.7" stroke-linecap="butt"/><line x1="2092.35" y1="476.00" x2="2111.05" y2="476.00" stroke="#000" stroke-width="4.7" stroke-linecap="butt"/><rect x="2120.10" y="433.50" width="23.20" height="353.70" fill="#fff" stroke="#000" stroke-width="4.4"/><line x1="2131.70" y1="422.00" x2="2131.70" y2="445.00" stroke="#000" stroke-width="4.7" stroke-linecap="butt"/><line x1="2122.35" y1="422.00" x2="2141.05" y2="422.00" stroke="#000" stroke-width="4.7" stroke-linecap="butt"/><line x1="2122.35" y1="445.00" x2="2141.05" y2="445.00" stroke="#000" stroke-width="4.7" stroke-linecap="butt"/><rect x="2150.10" y="420.50" width="23.20" height="366.70" fill="#fff" stroke="#000" stroke-width="4.4"/><line x1="2161.70" y1="412.00" x2="2161.70" y2="429.00" stroke="#000" stroke-width="4.7" stroke-linecap="butt"/><line x1="2152.35" y1="412.00" x2="2171.05" y2="412.00" stroke="#000" stroke-width="4.7" stroke-linecap="butt"/><line x1="2152.35" y1="429.00" x2="2171.05" y2="429.00" stroke="#000" stroke-width="4.7" stroke-linecap="butt"/><rect x="2180.10" y="364.00" width="23.20" height="423.20" fill="#fff" stroke="#000" stroke-width="4.4"/><line x1="2191.70" y1="358.00" x2="2191.70" y2="370.00" stroke="#000" stroke-width="4.7" stroke-linecap="butt"/><line x1="2182.35" y1="358.00" x2="2201.05" y2="358.00" stroke="#000" stroke-width="4.7" stroke-linecap="butt"/><line x1="2182.35" y1="370.00" x2="2201.05" y2="370.00" stroke="#000" stroke-width="4.7" stroke-linecap="butt"/><rect x="2210.10" y="319.00" width="23.20" height="468.20" fill="#fff" stroke="#000" stroke-width="4.4"/><line x1="2221.70" y1="308.50" x2="2221.70" y2="328.50" stroke="#000" stroke-width="4.7" stroke-linecap="butt"/><line x1="2212.35" y1="308.50" x2="2231.05" y2="308.50" stroke="#000" stroke-width="4.7" stroke-linecap="butt"/><line x1="2212.35" y1="328.50" x2="2231.05" y2="328.50" stroke="#000" stroke-width="4.7" stroke-linecap="butt"/><rect x="2240.10" y="310.00" width="23.20" height="477.20" fill="#fff" stroke="#000" stroke-width="4.4"/><line x1="2251.70" y1="289.00" x2="2251.70" y2="330.00" stroke="#000" stroke-width="4.7" stroke-linecap="butt"/><line x1="2242.35" y1="289.00" x2="2261.05" y2="289.00" stroke="#000" stroke-width="4.7" stroke-linecap="butt"/><line x1="2242.35" y1="330.00" x2="2261.05" y2="330.00" stroke="#000" stroke-width="4.7" stroke-linecap="butt"/><rect x="2270.10" y="292.50" width="23.20" height="494.70" fill="#fff" stroke="#000" stroke-width="4.4"/><line x1="2281.70" y1="276.00" x2="2281.70" y2="308.00" stroke="#000" stroke-width="4.7" stroke-linecap="butt"/><line x1="2272.35" y1="276.00" x2="2291.05" y2="276.00" stroke="#000" stroke-width="4.7" stroke-linecap="butt"/><line x1="2272.35" y1="308.00" x2="2291.05" y2="308.00" stroke="#000" stroke-width="4.7" stroke-linecap="butt"/><rect x="2300.10" y="281.50" width="23.20" height="505.70" fill="#fff" stroke="#000" stroke-width="4.4"/><line x1="2311.70" y1="275.50" x2="2311.70" y2="287.50" stroke="#000" stroke-width="4.7" stroke-linecap="butt"/><line x1="2302.35" y1="275.50" x2="2321.05" y2="275.50" stroke="#000" stroke-width="4.7" stroke-linecap="butt"/><line x1="2302.35" y1="287.50" x2="2321.05" y2="287.50" stroke="#000" stroke-width="4.7" stroke-linecap="butt"/><rect x="2330.10" y="269.00" width="23.20" height="518.20" fill="#fff" stroke="#000" stroke-width="4.4"/><line x1="2341.70" y1="241.50" x2="2341.70" y2="297.50" stroke="#000" stroke-width="4.7" stroke-linecap="butt"/><line x1="2332.35" y1="241.50" x2="2351.05" y2="241.50" stroke="#000" stroke-width="4.7" stroke-linecap="butt"/><line x1="2332.35" y1="297.50" x2="2351.05" y2="297.50" stroke="#000" stroke-width="4.7" stroke-linecap="butt"/><rect x="2360.10" y="186.50" width="23.20" height="600.70" fill="#fff" stroke="#000" stroke-width="4.4"/><line x1="2371.70" y1="154.50" x2="2371.70" y2="218.00" stroke="#000" stroke-width="4.7" stroke-linecap="butt"/><line x1="2362.35" y1="154.50" x2="2381.05" y2="154.50" stroke="#000" stroke-width="4.7" stroke-linecap="butt"/><line x1="2362.35" y1="218.00" x2="2381.05" y2="218.00" stroke="#000" stroke-width="4.7" stroke-linecap="butt"/><line x1="1472.20" y1="787.20" x2="2389.00" y2="787.20" stroke="#000" stroke-width="5.4" stroke-linecap="butt"/><line x1="1501.70" y1="787.20" x2="1501.70" y2="802.00" stroke="#000" stroke-width="5" stroke-linecap="butt"/><line x1="1531.70" y1="787.20" x2="1531.70" y2="802.00" stroke="#000" stroke-width="5" stroke-linecap="butt"/><line x1="1561.70" y1="787.20" x2="1561.70" y2="802.00" stroke="#000" stroke-width="5" stroke-linecap="butt"/><line x1="1591.70" y1="787.20" x2="1591.70" y2="802.00" stroke="#000" stroke-width="5" stroke-linecap="butt"/><line x1="1621.70" y1="787.20" x2="1621.70" y2="802.00" stroke="#000" stroke-width="5" stroke-linecap="butt"/><line x1="1651.70" y1="787.20" x2="1651.70" y2="802.00" stroke="#000" stroke-width="5" stroke-linecap="butt"/><line x1="1681.70" y1="787.20" x2="1681.70" y2="802.00" stroke="#000" stroke-width="5" stroke-linecap="butt"/><line x1="1711.70" y1="787.20" x2="1711.70" y2="802.00" stroke="#000" stroke-width="5" stroke-linecap="butt"/><line x1="1741.70" y1="787.20" x2="1741.70" y2="802.00" stroke="#000" stroke-width="5" stroke-linecap="butt"/><line x1="1771.70" y1="787.20" x2="1771.70" y2="802.00" stroke="#000" stroke-width="5" stroke-linecap="butt"/><line x1="1801.70" y1="787.20" x2="1801.70" y2="802.00" stroke="#000" stroke-width="5" stroke-linecap="butt"/><line x1="1831.70" y1="787.20" x2="1831.70" y2="802.00" stroke="#000" stroke-width="5" stroke-linecap="butt"/><line x1="1861.70" y1="787.20" x2="1861.70" y2="802.00" stroke="#000" stroke-width="5" stroke-linecap="butt"/><line x1="1891.70" y1="787.20" x2="1891.70" y2="802.00" stroke="#000" stroke-width="5" stroke-linecap="butt"/><line x1="1921.70" y1="787.20" x2="1921.70" y2="802.00" stroke="#000" stroke-width="5" stroke-linecap="butt"/><line x1="1951.70" y1="787.20" x2="1951.70" y2="802.00" stroke="#000" stroke-width="5" stroke-linecap="butt"/><line x1="1981.70" y1="787.20" x2="1981.70" y2="802.00" stroke="#000" stroke-width="5" stroke-linecap="butt"/><line x1="2011.70" y1="787.20" x2="2011.70" y2="802.00" stroke="#000" stroke-width="5" stroke-linecap="butt"/><line x1="2041.70" y1="787.20" x2="2041.70" y2="802.00" stroke="#000" stroke-width="5" stroke-linecap="butt"/><line x1="2071.70" y1="787.20" x2="2071.70" y2="802.00" stroke="#000" stroke-width="5" stroke-linecap="butt"/><line x1="2101.70" y1="787.20" x2="2101.70" y2="802.00" stroke="#000" stroke-width="5" stroke-linecap="butt"/><line x1="2131.70" y1="787.20" x2="2131.70" y2="802.00" stroke="#000" stroke-width="5" stroke-linecap="butt"/><line x1="2161.70" y1="787.20" x2="2161.70" y2="802.00" stroke="#000" stroke-width="5" stroke-linecap="butt"/><line x1="2191.70" y1="787.20" x2="2191.70" y2="802.00" stroke="#000" stroke-width="5" stroke-linecap="butt"/><line x1="2221.70" y1="787.20" x2="2221.70" y2="802.00" stroke="#000" stroke-width="5" stroke-linecap="butt"/><line x1="2251.70" y1="787.20" x2="2251.70" y2="802.00" stroke="#000" stroke-width="5" stroke-linecap="butt"/><line x1="2281.70" y1="787.20" x2="2281.70" y2="802.00" stroke="#000" stroke-width="5" stroke-linecap="butt"/><line x1="2311.70" y1="787.20" x2="2311.70" y2="802.00" stroke="#000" stroke-width="5" stroke-linecap="butt"/><line x1="2341.70" y1="787.20" x2="2341.70" y2="802.00" stroke="#000" stroke-width="5" stroke-linecap="butt"/><line x1="2371.70" y1="787.20" x2="2371.70" y2="802.00" stroke="#000" stroke-width="5" stroke-linecap="butt"/><line x1="1486.60" y1="57.80" x2="1486.60" y2="789.90" stroke="#000" stroke-width="5.4" stroke-linecap="butt"/><line x1="1472.10" y1="787.20" x2="1486.60" y2="787.20" stroke="#000" stroke-width="5.2" stroke-linecap="butt"/><line x1="1479.10" y1="696.36" x2="1486.60" y2="696.36" stroke="#000" stroke-width="5.0" stroke-linecap="butt"/><line x1="1472.10" y1="605.53" x2="1486.60" y2="605.53" stroke="#000" stroke-width="5.2" stroke-linecap="butt"/><line x1="1479.10" y1="514.69" x2="1486.60" y2="514.69" stroke="#000" stroke-width="5.0" stroke-linecap="butt"/><line x1="1472.10" y1="423.85" x2="1486.60" y2="423.85" stroke="#000" stroke-width="5.2" stroke-linecap="butt"/><line x1="1479.10" y1="333.01" x2="1486.60" y2="333.01" stroke="#000" stroke-width="5.0" stroke-linecap="butt"/><line x1="1472.10" y1="242.18" x2="1486.60" y2="242.18" stroke="#000" stroke-width="5.2" stroke-linecap="butt"/><line x1="1479.10" y1="151.34" x2="1486.60" y2="151.34" stroke="#000" stroke-width="5.0" stroke-linecap="butt"/><line x1="1472.10" y1="60.50" x2="1486.60" y2="60.50" stroke="#000" stroke-width="5.2" stroke-linecap="butt"/><text transform="translate(1462.30 801.08)" font-size="48" text-anchor="end" font-weight="normal" font-style="normal" fill="#000">0</text><text transform="translate(1462.30 619.41)" font-size="48" text-anchor="end" font-weight="normal" font-style="normal" fill="#000">1000</text><text transform="translate(1462.30 437.73)" font-size="48" text-anchor="end" font-weight="normal" font-style="normal" fill="#000">2000</text><text transform="translate(1462.30 256.06)" font-size="48" text-anchor="end" font-weight="normal" font-style="normal" fill="#000">3000</text><text transform="translate(1462.30 74.38)" font-size="48" text-anchor="end" font-weight="normal" font-style="normal" fill="#000">4000</text><text transform="translate(1512.83 810.00) scale(1.0500 1) rotate(-90)" font-size="33" text-anchor="end" font-weight="bold" font-style="normal" fill="#000">S15</text><text transform="translate(1542.83 810.00) scale(1.0500 1) rotate(-90)" font-size="33" text-anchor="end" font-weight="bold" font-style="normal" fill="#000">S20</text><text transform="translate(1572.83 810.00) scale(1.0500 1) rotate(-90)" font-size="33" text-anchor="end" font-weight="bold" font-style="normal" fill="#000">S16</text><text transform="translate(1602.83 810.00) scale(1.0500 1) rotate(-90)" font-size="33" text-anchor="end" font-weight="bold" font-style="normal" fill="#000">S28</text><text transform="translate(1632.83 810.00) scale(1.0500 1) rotate(-90)" font-size="33" text-anchor="end" font-weight="bold" font-style="normal" fill="#000">S18</text><text transform="translate(1662.83 810.00) scale(1.0500 1) rotate(-90)" font-size="33" text-anchor="end" font-weight="bold" font-style="normal" fill="#000">S22</text><text transform="translate(1692.83 810.00) scale(1.0500 1) rotate(-90)" font-size="33" text-anchor="end" font-weight="bold" font-style="normal" fill="#000">S21</text><text transform="translate(1722.83 810.00) scale(1.0500 1) rotate(-90)" font-size="33" text-anchor="end" font-weight="bold" font-style="normal" fill="#000">S6</text><text transform="translate(1752.83 810.00) scale(1.0500 1) rotate(-90)" font-size="33" text-anchor="end" font-weight="bold" font-style="normal" fill="#000">S11</text><text transform="translate(1782.83 810.00) scale(1.0500 1) rotate(-90)" font-size="33" text-anchor="end" font-weight="bold" font-style="normal" fill="#000">S29</text><text transform="translate(1812.83 810.00) scale(1.0500 1) rotate(-90)" font-size="33" text-anchor="end" font-weight="bold" font-style="normal" fill="#000">S1</text><text transform="translate(1842.83 810.00) scale(1.0500 1) rotate(-90)" font-size="33" text-anchor="end" font-weight="bold" font-style="normal" fill="#000">S27</text><text transform="translate(1872.83 810.00) scale(1.0500 1) rotate(-90)" font-size="33" text-anchor="end" font-weight="bold" font-style="normal" fill="#000">S2</text><text transform="translate(1902.83 810.00) scale(1.0500 1) rotate(-90)" font-size="33" text-anchor="end" font-weight="bold" font-style="normal" fill="#000">S26</text><text transform="translate(1932.83 810.00) scale(1.0500 1) rotate(-90)" font-size="33" text-anchor="end" font-weight="bold" font-style="normal" fill="#000">S23</text><text transform="translate(1962.83 810.00) scale(1.0500 1) rotate(-90)" font-size="33" text-anchor="end" font-weight="bold" font-style="normal" fill="#000">S3</text><text transform="translate(1992.83 810.00) scale(1.0500 1) rotate(-90)" font-size="33" text-anchor="end" font-weight="bold" font-style="normal" fill="#000">S14</text><text transform="translate(2022.83 810.00) scale(1.0500 1) rotate(-90)" font-size="33" text-anchor="end" font-weight="bold" font-style="normal" fill="#000">S5</text><text transform="translate(2052.83 810.00) scale(1.0500 1) rotate(-90)" font-size="33" text-anchor="end" font-weight="bold" font-style="normal" fill="#000">S10</text><text transform="translate(2082.83 810.00) scale(1.0500 1) rotate(-90)" font-size="33" text-anchor="end" font-weight="bold" font-style="normal" fill="#000">S4</text><text transform="translate(2112.83 810.00) scale(1.0500 1) rotate(-90)" font-size="33" text-anchor="end" font-weight="bold" font-style="normal" fill="#000">S8</text><text transform="translate(2142.83 810.00) scale(1.0500 1) rotate(-90)" font-size="33" text-anchor="end" font-weight="bold" font-style="normal" fill="#000">S17</text><text transform="translate(2172.83 810.00) scale(1.0500 1) rotate(-90)" font-size="33" text-anchor="end" font-weight="bold" font-style="normal" fill="#000">S19</text><text transform="translate(2202.83 810.00) scale(1.0500 1) rotate(-90)" font-size="33" text-anchor="end" font-weight="bold" font-style="normal" fill="#000">S9</text><text transform="translate(2232.83 810.00) scale(1.0500 1) rotate(-90)" font-size="33" text-anchor="end" font-weight="bold" font-style="normal" fill="#000">S25</text><text transform="translate(2262.83 810.00) scale(1.0500 1) rotate(-90)" font-size="33" text-anchor="end" font-weight="bold" font-style="normal" fill="#000">S30</text><text transform="translate(2292.83 810.00) scale(1.0500 1) rotate(-90)" font-size="33" text-anchor="end" font-weight="bold" font-style="normal" fill="#000">S12</text><text transform="translate(2322.83 810.00) scale(1.0500 1) rotate(-90)" font-size="33" text-anchor="end" font-weight="bold" font-style="normal" fill="#000">S13</text><text transform="translate(2352.83 810.00) scale(1.0500 1) rotate(-90)" font-size="33" text-anchor="end" font-weight="bold" font-style="normal" fill="#000">S7</text><text transform="translate(2382.83 810.00) scale(1.0500 1) rotate(-90)" font-size="33" text-anchor="end" font-weight="bold" font-style="normal" fill="#000">S24</text><text transform="translate(1328.00 424.00) rotate(-90)" font-size="48" text-anchor="middle" font-weight="normal" font-style="normal" fill="#000">Cd content in roots (μg·g<tspan font-size="68%" dy="-0.6em">-1</tspan><tspan dy="0.408em">)</tspan></text><text transform="translate(1298.00 82.00)" font-size="58" text-anchor="start" font-weight="normal" font-style="normal" fill="#000">b</text><rect x="296.20" y="1500.00" width="5.98" height="125.50" fill="#4a4a4a"/><rect x="324.58" y="1473.50" width="5.98" height="152.00" fill="#4a4a4a"/><rect x="352.96" y="1463.00" width="5.98" height="162.50" fill="#4a4a4a"/><rect x="381.34" y="1463.00" width="5.98" height="162.50" fill="#4a4a4a"/><rect x="409.72" y="1458.00" width="5.98" height="167.50" fill="#4a4a4a"/><rect x="438.10" y="1441.50" width="5.98" height="184.00" fill="#4a4a4a"/><rect x="466.48" y="1438.50" width="5.98" height="187.00" fill="#4a4a4a"/><rect x="494.86" y="1431.00" width="5.98" height="194.50" fill="#4a4a4a"/><rect x="523.24" y="1382.00" width="5.98" height="243.50" fill="#4a4a4a"/><rect x="551.62" y="1382.00" width="5.98" height="243.50" fill="#4a4a4a"/><rect x="580.00" y="1378.00" width="5.98" height="247.50" fill="#4a4a4a"/><rect x="608.38" y="1369.00" width="5.98" height="256.50" fill="#4a4a4a"/><rect x="636.76" y="1364.00" width="5.98" height="261.50" fill="#4a4a4a"/><rect x="665.14" y="1363.50" width="5.98" height="262.00" fill="#4a4a4a"/><rect x="693.52" y="1358.50" width="5.98" height="267.00" fill="#4a4a4a"/><rect x="721.90" y="1357.00" width="5.98" height="268.50" fill="#4a4a4a"/><rect x="750.28" y="1354.50" width="5.98" height="271.00" fill="#4a4a4a"/><rect x="778.66" y="1340.50" width="5.98" height="285.00" fill="#4a4a4a"/><rect x="807.04" y="1332.50" width="5.98" height="293.00" fill="#4a4a4a"/><rect x="835.42" y="1326.00" width="5.98" height="299.50" fill="#4a4a4a"/><rect x="863.80" y="1325.00" width="5.98" height="300.50" fill="#4a4a4a"/><rect x="892.18" y="1319.00" width="5.98" height="306.50" fill="#4a4a4a"/><rect x="920.56" y="1311.00" width="5.98" height="314.50" fill="#4a4a4a"/><rect x="948.94" y="1288.00" width="5.98" height="337.50" fill="#4a4a4a"/><rect x="977.32" y="1269.50" width="5.98" height="356.00" fill="#4a4a4a"/><rect x="1005.70" y="1264.00" width="5.98" height="361.50" fill="#4a4a4a"/><rect x="1034.08" y="1249.00" width="5.98" height="376.50" fill="#4a4a4a"/><rect x="1062.46" y="1241.50" width="5.98" height="384.00" fill="#4a4a4a"/><rect x="1090.84" y="1217.00" width="5.98" height="408.50" fill="#4a4a4a"/><rect x="273.80" y="1500.00" width="22.40" height="125.50" fill="#fff" stroke="#000" stroke-width="4.1"/><line x1="285.00" y1="1485.00" x2="285.00" y2="1514.00" stroke="#000" stroke-width="4.7" stroke-linecap="butt"/><line x1="276.00" y1="1485.00" x2="294.00" y2="1485.00" stroke="#000" stroke-width="4.7" stroke-linecap="butt"/><line x1="276.00" y1="1514.00" x2="294.00" y2="1514.00" stroke="#000" stroke-width="4.7" stroke-linecap="butt"/><rect x="302.18" y="1473.50" width="22.40" height="152.00" fill="#fff" stroke="#000" stroke-width="4.1"/><line x1="313.38" y1="1446.50" x2="313.38" y2="1500.00" stroke="#000" stroke-width="4.7" stroke-linecap="butt"/><line x1="304.38" y1="1446.50" x2="322.38" y2="1446.50" stroke="#000" stroke-width="4.7" stroke-linecap="butt"/><line x1="304.38" y1="1500.00" x2="322.38" y2="1500.00" stroke="#000" stroke-width="4.7" stroke-linecap="butt"/><rect x="330.56" y="1463.00" width="22.40" height="162.50" fill="#fff" stroke="#000" stroke-width="4.1"/><line x1="341.76" y1="1456.50" x2="341.76" y2="1469.00" stroke="#000" stroke-width="4.7" stroke-linecap="butt"/><line x1="332.76" y1="1456.50" x2="350.76" y2="1456.50" stroke="#000" stroke-width="4.7" stroke-linecap="butt"/><line x1="332.76" y1="1469.00" x2="350.76" y2="1469.00" stroke="#000" stroke-width="4.7" stroke-linecap="butt"/><rect x="358.94" y="1463.00" width="22.40" height="162.50" fill="#fff" stroke="#000" stroke-width="4.1"/><line x1="370.14" y1="1443.00" x2="370.14" y2="1481.50" stroke="#000" stroke-width="4.7" stroke-linecap="butt"/><line x1="361.14" y1="1443.00" x2="379.14" y2="1443.00" stroke="#000" stroke-width="4.7" stroke-linecap="butt"/><line x1="361.14" y1="1481.50" x2="379.14" y2="1481.50" stroke="#000" stroke-width="4.7" stroke-linecap="butt"/><rect x="387.32" y="1458.00" width="22.40" height="167.50" fill="#fff" stroke="#000" stroke-width="4.1"/><line x1="398.52" y1="1444.00" x2="398.52" y2="1472.50" stroke="#000" stroke-width="4.7" stroke-linecap="butt"/><line x1="389.52" y1="1444.00" x2="407.52" y2="1444.00" stroke="#000" stroke-width="4.7" stroke-linecap="butt"/><line x1="389.52" y1="1472.50" x2="407.52" y2="1472.50" stroke="#000" stroke-width="4.7" stroke-linecap="butt"/><rect x="415.70" y="1441.50" width="22.40" height="184.00" fill="#fff" stroke="#000" stroke-width="4.1"/><line x1="426.90" y1="1438.50" x2="426.90" y2="1445.50" stroke="#000" stroke-width="4.7" stroke-linecap="butt"/><line x1="417.90" y1="1438.50" x2="435.90" y2="1438.50" stroke="#000" stroke-width="4.7" stroke-linecap="butt"/><line x1="417.90" y1="1445.50" x2="435.90" y2="1445.50" stroke="#000" stroke-width="4.7" stroke-linecap="butt"/><rect x="444.08" y="1438.50" width="22.40" height="187.00" fill="#fff" stroke="#000" stroke-width="4.1"/><line x1="455.28" y1="1426.50" x2="455.28" y2="1450.00" stroke="#000" stroke-width="4.7" stroke-linecap="butt"/><line x1="446.28" y1="1426.50" x2="464.28" y2="1426.50" stroke="#000" stroke-width="4.7" stroke-linecap="butt"/><line x1="446.28" y1="1450.00" x2="464.28" y2="1450.00" stroke="#000" stroke-width="4.7" stroke-linecap="butt"/><rect x="472.46" y="1431.00" width="22.40" height="194.50" fill="#fff" stroke="#000" stroke-width="4.1"/><line x1="483.66" y1="1425.00" x2="483.66" y2="1437.50" stroke="#000" stroke-width="4.7" stroke-linecap="butt"/><line x1="474.66" y1="1425.00" x2="492.66" y2="1425.00" stroke="#000" stroke-width="4.7" stroke-linecap="butt"/><line x1="474.66" y1="1437.50" x2="492.66" y2="1437.50" stroke="#000" stroke-width="4.7" stroke-linecap="butt"/><rect x="500.84" y="1382.00" width="22.40" height="243.50" fill="#fff" stroke="#000" stroke-width="4.1"/><line x1="512.04" y1="1367.50" x2="512.04" y2="1396.00" stroke="#000" stroke-width="4.7" stroke-linecap="butt"/><line x1="503.04" y1="1367.50" x2="521.04" y2="1367.50" stroke="#000" stroke-width="4.7" stroke-linecap="butt"/><line x1="503.04" y1="1396.00" x2="521.04" y2="1396.00" stroke="#000" stroke-width="4.7" stroke-linecap="butt"/><rect x="529.22" y="1382.00" width="22.40" height="243.50" fill="#fff" stroke="#000" stroke-width="4.1"/><line x1="540.42" y1="1359.50" x2="540.42" y2="1403.50" stroke="#000" stroke-width="4.7" stroke-linecap="butt"/><line x1="531.42" y1="1359.50" x2="549.42" y2="1359.50" stroke="#000" stroke-width="4.7" stroke-linecap="butt"/><line x1="531.42" y1="1403.50" x2="549.42" y2="1403.50" stroke="#000" stroke-width="4.7" stroke-linecap="butt"/><rect x="557.60" y="1378.00" width="22.40" height="247.50" fill="#fff" stroke="#000" stroke-width="4.1"/><line x1="568.80" y1="1369.50" x2="568.80" y2="1387.50" stroke="#000" stroke-width="4.7" stroke-linecap="butt"/><line x1="559.80" y1="1369.50" x2="577.80" y2="1369.50" stroke="#000" stroke-width="4.7" stroke-linecap="butt"/><line x1="559.80" y1="1387.50" x2="577.80" y2="1387.50" stroke="#000" stroke-width="4.7" stroke-linecap="butt"/><rect x="585.98" y="1369.00" width="22.40" height="256.50" fill="#fff" stroke="#000" stroke-width="4.1"/><line x1="597.18" y1="1358.50" x2="597.18" y2="1378.50" stroke="#000" stroke-width="4.7" stroke-linecap="butt"/><line x1="588.18" y1="1358.50" x2="606.18" y2="1358.50" stroke="#000" stroke-width="4.7" stroke-linecap="butt"/><line x1="588.18" y1="1378.50" x2="606.18" y2="1378.50" stroke="#000" stroke-width="4.7" stroke-linecap="butt"/><rect x="614.36" y="1364.00" width="22.40" height="261.50" fill="#fff" stroke="#000" stroke-width="4.1"/><line x1="625.56" y1="1348.00" x2="625.56" y2="1380.00" stroke="#000" stroke-width="4.7" stroke-linecap="butt"/><line x1="616.56" y1="1348.00" x2="634.56" y2="1348.00" stroke="#000" stroke-width="4.7" stroke-linecap="butt"/><line x1="616.56" y1="1380.00" x2="634.56" y2="1380.00" stroke="#000" stroke-width="4.7" stroke-linecap="butt"/><rect x="642.74" y="1363.50" width="22.40" height="262.00" fill="#fff" stroke="#000" stroke-width="4.1"/><line x1="653.94" y1="1344.00" x2="653.94" y2="1382.50" stroke="#000" stroke-width="4.7" stroke-linecap="butt"/><line x1="644.94" y1="1344.00" x2="662.94" y2="1344.00" stroke="#000" stroke-width="4.7" stroke-linecap="butt"/><line x1="644.94" y1="1382.50" x2="662.94" y2="1382.50" stroke="#000" stroke-width="4.7" stroke-linecap="butt"/><rect x="671.12" y="1358.50" width="22.40" height="267.00" fill="#fff" stroke="#000" stroke-width="4.1"/><line x1="682.32" y1="1331.00" x2="682.32" y2="1385.50" stroke="#000" stroke-width="4.7" stroke-linecap="butt"/><line x1="673.32" y1="1331.00" x2="691.32" y2="1331.00" stroke="#000" stroke-width="4.7" stroke-linecap="butt"/><line x1="673.32" y1="1385.50" x2="691.32" y2="1385.50" stroke="#000" stroke-width="4.7" stroke-linecap="butt"/><rect x="699.50" y="1357.00" width="22.40" height="268.50" fill="#fff" stroke="#000" stroke-width="4.1"/><line x1="710.70" y1="1354.50" x2="710.70" y2="1360.50" stroke="#000" stroke-width="4.7" stroke-linecap="butt"/><line x1="701.70" y1="1354.50" x2="719.70" y2="1354.50" stroke="#000" stroke-width="4.7" stroke-linecap="butt"/><line x1="701.70" y1="1360.50" x2="719.70" y2="1360.50" stroke="#000" stroke-width="4.7" stroke-linecap="butt"/><rect x="727.88" y="1354.50" width="22.40" height="271.00" fill="#fff" stroke="#000" stroke-width="4.1"/><line x1="739.08" y1="1349.00" x2="739.08" y2="1360.50" stroke="#000" stroke-width="4.7" stroke-linecap="butt"/><line x1="730.08" y1="1349.00" x2="748.08" y2="1349.00" stroke="#000" stroke-width="4.7" stroke-linecap="butt"/><line x1="730.08" y1="1360.50" x2="748.08" y2="1360.50" stroke="#000" stroke-width="4.7" stroke-linecap="butt"/><rect x="756.26" y="1340.50" width="22.40" height="285.00" fill="#fff" stroke="#000" stroke-width="4.1"/><line x1="767.46" y1="1307.50" x2="767.46" y2="1373.00" stroke="#000" stroke-width="4.7" stroke-linecap="butt"/><line x1="758.46" y1="1307.50" x2="776.46" y2="1307.50" stroke="#000" stroke-width="4.7" stroke-linecap="butt"/><line x1="758.46" y1="1373.00" x2="776.46" y2="1373.00" stroke="#000" stroke-width="4.7" stroke-linecap="butt"/><rect x="784.64" y="1332.50" width="22.40" height="293.00" fill="#fff" stroke="#000" stroke-width="4.1"/><line x1="795.84" y1="1331.00" x2="795.84" y2="1334.00" stroke="#000" stroke-width="4.7" stroke-linecap="butt"/><line x1="786.84" y1="1331.00" x2="804.84" y2="1331.00" stroke="#000" stroke-width="4.7" stroke-linecap="butt"/><line x1="786.84" y1="1334.00" x2="804.84" y2="1334.00" stroke="#000" stroke-width="4.7" stroke-linecap="butt"/><rect x="813.02" y="1326.00" width="22.40" height="299.50" fill="#fff" stroke="#000" stroke-width="4.1"/><line x1="824.22" y1="1320.00" x2="824.22" y2="1331.00" stroke="#000" stroke-width="4.7" stroke-linecap="butt"/><line x1="815.22" y1="1320.00" x2="833.22" y2="1320.00" stroke="#000" stroke-width="4.7" stroke-linecap="butt"/><line x1="815.22" y1="1331.00" x2="833.22" y2="1331.00" stroke="#000" stroke-width="4.7" stroke-linecap="butt"/><rect x="841.40" y="1325.00" width="22.40" height="300.50" fill="#fff" stroke="#000" stroke-width="4.1"/><line x1="852.60" y1="1313.00" x2="852.60" y2="1336.50" stroke="#000" stroke-width="4.7" stroke-linecap="butt"/><line x1="843.60" y1="1313.00" x2="861.60" y2="1313.00" stroke="#000" stroke-width="4.7" stroke-linecap="butt"/><line x1="843.60" y1="1336.50" x2="861.60" y2="1336.50" stroke="#000" stroke-width="4.7" stroke-linecap="butt"/><rect x="869.78" y="1319.00" width="22.40" height="306.50" fill="#fff" stroke="#000" stroke-width="4.1"/><line x1="880.98" y1="1311.50" x2="880.98" y2="1325.50" stroke="#000" stroke-width="4.7" stroke-linecap="butt"/><line x1="871.98" y1="1311.50" x2="889.98" y2="1311.50" stroke="#000" stroke-width="4.7" stroke-linecap="butt"/><line x1="871.98" y1="1325.50" x2="889.98" y2="1325.50" stroke="#000" stroke-width="4.7" stroke-linecap="butt"/><rect x="898.16" y="1311.00" width="22.40" height="314.50" fill="#fff" stroke="#000" stroke-width="4.1"/><rect x="926.54" y="1288.00" width="22.40" height="337.50" fill="#fff" stroke="#000" stroke-width="4.1"/><line x1="937.74" y1="1244.50" x2="937.74" y2="1331.00" stroke="#000" stroke-width="4.7" stroke-linecap="butt"/><line x1="928.74" y1="1244.50" x2="946.74" y2="1244.50" stroke="#000" stroke-width="4.7" stroke-linecap="butt"/><line x1="928.74" y1="1331.00" x2="946.74" y2="1331.00" stroke="#000" stroke-width="4.7" stroke-linecap="butt"/><rect x="954.92" y="1269.50" width="22.40" height="356.00" fill="#fff" stroke="#000" stroke-width="4.1"/><line x1="966.12" y1="1234.00" x2="966.12" y2="1304.00" stroke="#000" stroke-width="4.7" stroke-linecap="butt"/><line x1="957.12" y1="1234.00" x2="975.12" y2="1234.00" stroke="#000" stroke-width="4.7" stroke-linecap="butt"/><line x1="957.12" y1="1304.00" x2="975.12" y2="1304.00" stroke="#000" stroke-width="4.7" stroke-linecap="butt"/><rect x="983.30" y="1264.00" width="22.40" height="361.50" fill="#fff" stroke="#000" stroke-width="4.1"/><line x1="994.50" y1="1223.50" x2="994.50" y2="1304.00" stroke="#000" stroke-width="4.7" stroke-linecap="butt"/><line x1="985.50" y1="1223.50" x2="1003.50" y2="1223.50" stroke="#000" stroke-width="4.7" stroke-linecap="butt"/><line x1="985.50" y1="1304.00" x2="1003.50" y2="1304.00" stroke="#000" stroke-width="4.7" stroke-linecap="butt"/><rect x="1011.68" y="1249.00" width="22.40" height="376.50" fill="#fff" stroke="#000" stroke-width="4.1"/><line x1="1022.88" y1="1238.00" x2="1022.88" y2="1258.50" stroke="#000" stroke-width="4.7" stroke-linecap="butt"/><line x1="1013.88" y1="1238.00" x2="1031.88" y2="1238.00" stroke="#000" stroke-width="4.7" stroke-linecap="butt"/><line x1="1013.88" y1="1258.50" x2="1031.88" y2="1258.50" stroke="#000" stroke-width="4.7" stroke-linecap="butt"/><rect x="1040.06" y="1241.50" width="22.40" height="384.00" fill="#fff" stroke="#000" stroke-width="4.1"/><line x1="1051.26" y1="1220.00" x2="1051.26" y2="1261.00" stroke="#000" stroke-width="4.7" stroke-linecap="butt"/><line x1="1042.26" y1="1220.00" x2="1060.26" y2="1220.00" stroke="#000" stroke-width="4.7" stroke-linecap="butt"/><line x1="1042.26" y1="1261.00" x2="1060.26" y2="1261.00" stroke="#000" stroke-width="4.7" stroke-linecap="butt"/><rect x="1068.44" y="1217.00" width="22.40" height="408.50" fill="#fff" stroke="#000" stroke-width="4.1"/><line x1="1079.64" y1="1185.50" x2="1079.64" y2="1248.00" stroke="#000" stroke-width="4.7" stroke-linecap="butt"/><line x1="1070.64" y1="1185.50" x2="1088.64" y2="1185.50" stroke="#000" stroke-width="4.7" stroke-linecap="butt"/><line x1="1070.64" y1="1248.00" x2="1088.64" y2="1248.00" stroke="#000" stroke-width="4.7" stroke-linecap="butt"/><rect x="1096.82" y="1052.50" width="22.40" height="573.00" fill="#fff" stroke="#000" stroke-width="4.1"/><line x1="1108.02" y1="1023.50" x2="1108.02" y2="1080.00" stroke="#000" stroke-width="4.7" stroke-linecap="butt"/><line x1="1099.02" y1="1023.50" x2="1117.02" y2="1023.50" stroke="#000" stroke-width="4.7" stroke-linecap="butt"/><line x1="1099.02" y1="1080.00" x2="1117.02" y2="1080.00" stroke="#000" stroke-width="4.7" stroke-linecap="butt"/><line x1="258.10" y1="1625.50" x2="1123.00" y2="1625.50" stroke="#000" stroke-width="5.4" stroke-linecap="butt"/><line x1="285.00" y1="1625.50" x2="285.00" y2="1640.00" stroke="#000" stroke-width="4.8" stroke-linecap="butt"/><line x1="313.38" y1="1625.50" x2="313.38" y2="1640.00" stroke="#000" stroke-width="4.8" stroke-linecap="butt"/><line x1="341.76" y1="1625.50" x2="341.76" y2="1640.00" stroke="#000" stroke-width="4.8" stroke-linecap="butt"/><line x1="370.14" y1="1625.50" x2="370.14" y2="1640.00" stroke="#000" stroke-width="4.8" stroke-linecap="butt"/><line x1="398.52" y1="1625.50" x2="398.52" y2="1640.00" stroke="#000" stroke-width="4.8" stroke-linecap="butt"/><line x1="426.90" y1="1625.50" x2="426.90" y2="1640.00" stroke="#000" stroke-width="4.8" stroke-linecap="butt"/><line x1="455.28" y1="1625.50" x2="455.28" y2="1640.00" stroke="#000" stroke-width="4.8" stroke-linecap="butt"/><line x1="483.66" y1="1625.50" x2="483.66" y2="1640.00" stroke="#000" stroke-width="4.8" stroke-linecap="butt"/><line x1="512.04" y1="1625.50" x2="512.04" y2="1640.00" stroke="#000" stroke-width="4.8" stroke-linecap="butt"/><line x1="540.42" y1="1625.50" x2="540.42" y2="1640.00" stroke="#000" stroke-width="4.8" stroke-linecap="butt"/><line x1="568.80" y1="1625.50" x2="568.80" y2="1640.00" stroke="#000" stroke-width="4.8" stroke-linecap="butt"/><line x1="597.18" y1="1625.50" x2="597.18" y2="1640.00" stroke="#000" stroke-width="4.8" stroke-linecap="butt"/><line x1="625.56" y1="1625.50" x2="625.56" y2="1640.00" stroke="#000" stroke-width="4.8" stroke-linecap="butt"/><line x1="653.94" y1="1625.50" x2="653.94" y2="1640.00" stroke="#000" stroke-width="4.8" stroke-linecap="butt"/><line x1="682.32" y1="1625.50" x2="682.32" y2="1640.00" stroke="#000" stroke-width="4.8" stroke-linecap="butt"/><line x1="710.70" y1="1625.50" x2="710.70" y2="1640.00" stroke="#000" stroke-width="4.8" stroke-linecap="butt"/><line x1="739.08" y1="1625.50" x2="739.08" y2="1640.00" stroke="#000" stroke-width="4.8" stroke-linecap="butt"/><line x1="767.46" y1="1625.50" x2="767.46" y2="1640.00" stroke="#000" stroke-width="4.8" stroke-linecap="butt"/><line x1="795.84" y1="1625.50" x2="795.84" y2="1640.00" stroke="#000" stroke-width="4.8" stroke-linecap="butt"/><line x1="824.22" y1="1625.50" x2="824.22" y2="1640.00" stroke="#000" stroke-width="4.8" stroke-linecap="butt"/><line x1="852.60" y1="1625.50" x2="852.60" y2="1640.00" stroke="#000" stroke-width="4.8" stroke-linecap="butt"/><line x1="880.98" y1="1625.50" x2="880.98" y2="1640.00" stroke="#000" stroke-width="4.8" stroke-linecap="butt"/><line x1="909.36" y1="1625.50" x2="909.36" y2="1640.00" stroke="#000" stroke-width="4.8" stroke-linecap="butt"/><line x1="937.74" y1="1625.50" x2="937.74" y2="1640.00" stroke="#000" stroke-width="4.8" stroke-linecap="butt"/><line x1="966.12" y1="1625.50" x2="966.12" y2="1640.00" stroke="#000" stroke-width="4.8" stroke-linecap="butt"/><line x1="994.50" y1="1625.50" x2="994.50" y2="1640.00" stroke="#000" stroke-width="4.8" stroke-linecap="butt"/><line x1="1022.88" y1="1625.50" x2="1022.88" y2="1640.00" stroke="#000" stroke-width="4.8" stroke-linecap="butt"/><line x1="1051.26" y1="1625.50" x2="1051.26" y2="1640.00" stroke="#000" stroke-width="4.8" stroke-linecap="butt"/><line x1="1079.64" y1="1625.50" x2="1079.64" y2="1640.00" stroke="#000" stroke-width="4.8" stroke-linecap="butt"/><line x1="1108.02" y1="1625.50" x2="1108.02" y2="1640.00" stroke="#000" stroke-width="4.8" stroke-linecap="butt"/><line x1="271.80" y1="936.30" x2="271.80" y2="1628.20" stroke="#000" stroke-width="5.4" stroke-linecap="butt"/><line x1="258.00" y1="1625.50" x2="271.80" y2="1625.50" stroke="#000" stroke-width="5.2" stroke-linecap="butt"/><line x1="264.40" y1="1539.69" x2="271.80" y2="1539.69" stroke="#000" stroke-width="5.0" stroke-linecap="butt"/><line x1="258.00" y1="1453.88" x2="271.80" y2="1453.88" stroke="#000" stroke-width="5.2" stroke-linecap="butt"/><line x1="264.40" y1="1368.06" x2="271.80" y2="1368.06" stroke="#000" stroke-width="5.0" stroke-linecap="butt"/><line x1="258.00" y1="1282.25" x2="271.80" y2="1282.25" stroke="#000" stroke-width="5.2" stroke-linecap="butt"/><line x1="264.40" y1="1196.44" x2="271.80" y2="1196.44" stroke="#000" stroke-width="5.0" stroke-linecap="butt"/><line x1="258.00" y1="1110.62" x2="271.80" y2="1110.62" stroke="#000" stroke-width="5.2" stroke-linecap="butt"/><line x1="264.40" y1="1024.81" x2="271.80" y2="1024.81" stroke="#000" stroke-width="5.0" stroke-linecap="butt"/><line x1="258.00" y1="939.00" x2="271.80" y2="939.00" stroke="#000" stroke-width="5.2" stroke-linecap="butt"/><text transform="translate(248.60 1640.08) scale(0.9460 1)" font-size="48" text-anchor="end" font-weight="normal" font-style="normal" fill="#000">0</text><text transform="translate(248.60 1468.45) scale(0.9460 1)" font-size="48" text-anchor="end" font-weight="normal" font-style="normal" fill="#000">2000</text><text transform="translate(248.60 1296.83) scale(0.9460 1)" font-size="48" text-anchor="end" font-weight="normal" font-style="normal" fill="#000">4000</text><text transform="translate(248.60 1125.20) scale(0.9460 1)" font-size="48" text-anchor="end" font-weight="normal" font-style="normal" fill="#000">6000</text><text transform="translate(248.60 953.58) scale(0.9460 1)" font-size="48" text-anchor="end" font-weight="normal" font-style="normal" fill="#000">8000</text><text transform="translate(296.46 1647.30) scale(1.0850 1) rotate(-90)" font-size="32" text-anchor="end" font-weight="bold" font-style="normal" fill="#000">S15</text><text transform="translate(324.84 1647.30) scale(1.0850 1) rotate(-90)" font-size="32" text-anchor="end" font-weight="bold" font-style="normal" fill="#000">S18</text><text transform="translate(353.22 1647.30) scale(1.0850 1) rotate(-90)" font-size="32" text-anchor="end" font-weight="bold" font-style="normal" fill="#000">S28</text><text transform="translate(381.60 1647.30) scale(1.0850 1) rotate(-90)" font-size="32" text-anchor="end" font-weight="bold" font-style="normal" fill="#000">S16</text><text transform="translate(409.98 1647.30) scale(1.0850 1) rotate(-90)" font-size="32" text-anchor="end" font-weight="bold" font-style="normal" fill="#000">S26</text><text transform="translate(438.36 1647.30) scale(1.0850 1) rotate(-90)" font-size="32" text-anchor="end" font-weight="bold" font-style="normal" fill="#000">S20</text><text transform="translate(466.74 1647.30) scale(1.0850 1) rotate(-90)" font-size="32" text-anchor="end" font-weight="bold" font-style="normal" fill="#000">S29</text><text transform="translate(495.12 1647.30) scale(1.0850 1) rotate(-90)" font-size="32" text-anchor="end" font-weight="bold" font-style="normal" fill="#000">S22</text><text transform="translate(523.50 1647.30) scale(1.0850 1) rotate(-90)" font-size="32" text-anchor="end" font-weight="bold" font-style="normal" fill="#000">S2</text><text transform="translate(551.88 1647.30) scale(1.0850 1) rotate(-90)" font-size="32" text-anchor="end" font-weight="bold" font-style="normal" fill="#000">S17</text><text transform="translate(580.26 1647.30) scale(1.0850 1) rotate(-90)" font-size="32" text-anchor="end" font-weight="bold" font-style="normal" fill="#000">S30</text><text transform="translate(608.64 1647.30) scale(1.0850 1) rotate(-90)" font-size="32" text-anchor="end" font-weight="bold" font-style="normal" fill="#000">S11</text><text transform="translate(637.02 1647.30) scale(1.0850 1) rotate(-90)" font-size="32" text-anchor="end" font-weight="bold" font-style="normal" fill="#000">S27</text><text transform="translate(665.40 1647.30) scale(1.0850 1) rotate(-90)" font-size="32" text-anchor="end" font-weight="bold" font-style="normal" fill="#000">S21</text><text transform="translate(693.78 1647.30) scale(1.0850 1) rotate(-90)" font-size="32" text-anchor="end" font-weight="bold" font-style="normal" fill="#000">S24</text><text transform="translate(722.16 1647.30) scale(1.0850 1) rotate(-90)" font-size="32" text-anchor="end" font-weight="bold" font-style="normal" fill="#000">S8</text><text transform="translate(750.54 1647.30) scale(1.0850 1) rotate(-90)" font-size="32" text-anchor="end" font-weight="bold" font-style="normal" fill="#000">S14</text><text transform="translate(778.92 1647.30) scale(1.0850 1) rotate(-90)" font-size="32" text-anchor="end" font-weight="bold" font-style="normal" fill="#000">S3</text><text transform="translate(807.30 1647.30) scale(1.0850 1) rotate(-90)" font-size="32" text-anchor="end" font-weight="bold" font-style="normal" fill="#000">S10</text><text transform="translate(835.68 1647.30) scale(1.0850 1) rotate(-90)" font-size="32" text-anchor="end" font-weight="bold" font-style="normal" fill="#000">S5</text><text transform="translate(864.06 1647.30) scale(1.0850 1) rotate(-90)" font-size="32" text-anchor="end" font-weight="bold" font-style="normal" fill="#000">S1</text><text transform="translate(892.44 1647.30) scale(1.0850 1) rotate(-90)" font-size="32" text-anchor="end" font-weight="bold" font-style="normal" fill="#000">S4</text><text transform="translate(920.82 1647.30) scale(1.0850 1) rotate(-90)" font-size="32" text-anchor="end" font-weight="bold" font-style="normal" fill="#000">S23</text><text transform="translate(949.20 1647.30) scale(1.0850 1) rotate(-90)" font-size="32" text-anchor="end" font-weight="bold" font-style="normal" fill="#000">S6</text><text transform="translate(977.58 1647.30) scale(1.0850 1) rotate(-90)" font-size="32" text-anchor="end" font-weight="bold" font-style="normal" fill="#000">S7</text><text transform="translate(1005.96 1647.30) scale(1.0850 1) rotate(-90)" font-size="32" text-anchor="end" font-weight="bold" font-style="normal" fill="#000">S19</text><text transform="translate(1034.34 1647.30) scale(1.0850 1) rotate(-90)" font-size="32" text-anchor="end" font-weight="bold" font-style="normal" fill="#000">S13</text><text transform="translate(1062.72 1647.30) scale(1.0850 1) rotate(-90)" font-size="32" text-anchor="end" font-weight="bold" font-style="normal" fill="#000">S25</text><text transform="translate(1091.10 1647.30) scale(1.0850 1) rotate(-90)" font-size="32" text-anchor="end" font-weight="bold" font-style="normal" fill="#000">S9</text><text transform="translate(1119.48 1647.30) scale(1.0850 1) rotate(-90)" font-size="32" text-anchor="end" font-weight="bold" font-style="normal" fill="#000">S12</text><text transform="translate(57.00 1287.00) scale(0.9460 1) rotate(-90)" font-size="45" text-anchor="middle" font-weight="normal" font-style="normal" fill="#000">Absorption of Cd</text><text transform="translate(127.00 1283.00) scale(0.9460 1) rotate(-90)" font-size="45" text-anchor="middle" font-weight="normal" font-style="normal" fill="#000">per unit root (μg·g<tspan font-size="68%" dy="-0.6em">-1</tspan><tspan dy="0.408em">)</tspan></text><text transform="translate(55.80 968.50)" font-size="57" text-anchor="start" font-weight="normal" font-style="normal" fill="#000">c</text><rect x="1526.75" y="1472.00" width="6.08" height="137.60" fill="#3a3a3a"/><rect x="1555.13" y="1457.50" width="6.08" height="152.10" fill="#3a3a3a"/><rect x="1583.51" y="1443.50" width="6.08" height="166.10" fill="#3a3a3a"/><rect x="1611.89" y="1440.00" width="6.08" height="169.60" fill="#3a3a3a"/><rect x="1640.27" y="1440.00" width="6.08" height="169.60" fill="#3a3a3a"/><rect x="1668.65" y="1438.00" width="6.08" height="171.60" fill="#3a3a3a"/><rect x="1697.03" y="1426.00" width="6.08" height="183.60" fill="#3a3a3a"/><rect x="1725.41" y="1403.00" width="6.08" height="206.60" fill="#3a3a3a"/><rect x="1753.79" y="1398.50" width="6.08" height="211.10" fill="#3a3a3a"/><rect x="1782.17" y="1392.50" width="6.08" height="217.10" fill="#3a3a3a"/><rect x="1810.55" y="1386.50" width="6.08" height="223.10" fill="#3a3a3a"/><rect x="1838.93" y="1372.00" width="6.08" height="237.60" fill="#3a3a3a"/><rect x="1867.31" y="1338.50" width="6.08" height="271.10" fill="#3a3a3a"/><rect x="1895.69" y="1334.00" width="6.08" height="275.60" fill="#3a3a3a"/><rect x="1924.07" y="1322.50" width="6.08" height="287.10" fill="#3a3a3a"/><rect x="1952.45" y="1318.00" width="6.08" height="291.60" fill="#3a3a3a"/><rect x="1980.83" y="1317.50" width="6.08" height="292.10" fill="#3a3a3a"/><rect x="2009.21" y="1311.00" width="6.08" height="298.60" fill="#3a3a3a"/><rect x="2037.59" y="1309.00" width="6.08" height="300.60" fill="#3a3a3a"/><rect x="2065.97" y="1302.00" width="6.08" height="307.60" fill="#3a3a3a"/><rect x="2094.35" y="1301.50" width="6.08" height="308.10" fill="#3a3a3a"/><rect x="2122.73" y="1275.00" width="6.08" height="334.60" fill="#3a3a3a"/><rect x="2151.11" y="1272.50" width="6.08" height="337.10" fill="#3a3a3a"/><rect x="2179.49" y="1272.50" width="6.08" height="337.10" fill="#3a3a3a"/><rect x="2207.87" y="1272.00" width="6.08" height="337.60" fill="#3a3a3a"/><rect x="2236.25" y="1269.50" width="6.08" height="340.10" fill="#3a3a3a"/><rect x="2264.63" y="1241.50" width="6.08" height="368.10" fill="#3a3a3a"/><rect x="2293.01" y="1173.00" width="6.08" height="436.60" fill="#3a3a3a"/><rect x="2321.39" y="1090.00" width="6.08" height="519.60" fill="#3a3a3a"/><rect x="1504.45" y="1472.00" width="22.30" height="137.60" fill="#fff" stroke="#000" stroke-width="4.1"/><line x1="1515.60" y1="1470.50" x2="1515.60" y2="1473.50" stroke="#000" stroke-width="4.7" stroke-linecap="butt"/><line x1="1506.60" y1="1470.50" x2="1524.60" y2="1470.50" stroke="#000" stroke-width="4.7" stroke-linecap="butt"/><line x1="1506.60" y1="1473.50" x2="1524.60" y2="1473.50" stroke="#000" stroke-width="4.7" stroke-linecap="butt"/><rect x="1532.83" y="1457.50" width="22.30" height="152.10" fill="#fff" stroke="#000" stroke-width="4.1"/><line x1="1543.98" y1="1438.50" x2="1543.98" y2="1476.00" stroke="#000" stroke-width="4.7" stroke-linecap="butt"/><line x1="1534.98" y1="1438.50" x2="1552.98" y2="1438.50" stroke="#000" stroke-width="4.7" stroke-linecap="butt"/><line x1="1534.98" y1="1476.00" x2="1552.98" y2="1476.00" stroke="#000" stroke-width="4.7" stroke-linecap="butt"/><rect x="1561.21" y="1443.50" width="22.30" height="166.10" fill="#fff" stroke="#000" stroke-width="4.1"/><line x1="1572.36" y1="1424.00" x2="1572.36" y2="1463.00" stroke="#000" stroke-width="4.7" stroke-linecap="butt"/><line x1="1563.36" y1="1424.00" x2="1581.36" y2="1424.00" stroke="#000" stroke-width="4.7" stroke-linecap="butt"/><line x1="1563.36" y1="1463.00" x2="1581.36" y2="1463.00" stroke="#000" stroke-width="4.7" stroke-linecap="butt"/><rect x="1589.59" y="1440.00" width="22.30" height="169.60" fill="#fff" stroke="#000" stroke-width="4.1"/><line x1="1600.74" y1="1435.00" x2="1600.74" y2="1445.00" stroke="#000" stroke-width="4.7" stroke-linecap="butt"/><line x1="1591.74" y1="1435.00" x2="1609.74" y2="1435.00" stroke="#000" stroke-width="4.7" stroke-linecap="butt"/><line x1="1591.74" y1="1445.00" x2="1609.74" y2="1445.00" stroke="#000" stroke-width="4.7" stroke-linecap="butt"/><rect x="1617.97" y="1440.00" width="22.30" height="169.60" fill="#fff" stroke="#000" stroke-width="4.1"/><line x1="1629.12" y1="1433.50" x2="1629.12" y2="1446.00" stroke="#000" stroke-width="4.7" stroke-linecap="butt"/><line x1="1620.12" y1="1433.50" x2="1638.12" y2="1433.50" stroke="#000" stroke-width="4.7" stroke-linecap="butt"/><line x1="1620.12" y1="1446.00" x2="1638.12" y2="1446.00" stroke="#000" stroke-width="4.7" stroke-linecap="butt"/><rect x="1646.35" y="1438.00" width="22.30" height="171.60" fill="#fff" stroke="#000" stroke-width="4.1"/><line x1="1657.50" y1="1427.00" x2="1657.50" y2="1449.00" stroke="#000" stroke-width="4.7" stroke-linecap="butt"/><line x1="1648.50" y1="1427.00" x2="1666.50" y2="1427.00" stroke="#000" stroke-width="4.7" stroke-linecap="butt"/><line x1="1648.50" y1="1449.00" x2="1666.50" y2="1449.00" stroke="#000" stroke-width="4.7" stroke-linecap="butt"/><rect x="1674.73" y="1426.00" width="22.30" height="183.60" fill="#fff" stroke="#000" stroke-width="4.1"/><line x1="1685.88" y1="1417.00" x2="1685.88" y2="1435.50" stroke="#000" stroke-width="4.7" stroke-linecap="butt"/><line x1="1676.88" y1="1417.00" x2="1694.88" y2="1417.00" stroke="#000" stroke-width="4.7" stroke-linecap="butt"/><line x1="1676.88" y1="1435.50" x2="1694.88" y2="1435.50" stroke="#000" stroke-width="4.7" stroke-linecap="butt"/><rect x="1703.11" y="1403.00" width="22.30" height="206.60" fill="#fff" stroke="#000" stroke-width="4.1"/><line x1="1714.26" y1="1394.50" x2="1714.26" y2="1411.00" stroke="#000" stroke-width="4.7" stroke-linecap="butt"/><line x1="1705.26" y1="1394.50" x2="1723.26" y2="1394.50" stroke="#000" stroke-width="4.7" stroke-linecap="butt"/><line x1="1705.26" y1="1411.00" x2="1723.26" y2="1411.00" stroke="#000" stroke-width="4.7" stroke-linecap="butt"/><rect x="1731.49" y="1398.50" width="22.30" height="211.10" fill="#fff" stroke="#000" stroke-width="4.1"/><line x1="1742.64" y1="1397.00" x2="1742.64" y2="1400.00" stroke="#000" stroke-width="4.7" stroke-linecap="butt"/><line x1="1733.64" y1="1397.00" x2="1751.64" y2="1397.00" stroke="#000" stroke-width="4.7" stroke-linecap="butt"/><line x1="1733.64" y1="1400.00" x2="1751.64" y2="1400.00" stroke="#000" stroke-width="4.7" stroke-linecap="butt"/><rect x="1759.87" y="1392.50" width="22.30" height="217.10" fill="#fff" stroke="#000" stroke-width="4.1"/><line x1="1771.02" y1="1382.50" x2="1771.02" y2="1402.50" stroke="#000" stroke-width="4.7" stroke-linecap="butt"/><line x1="1762.02" y1="1382.50" x2="1780.02" y2="1382.50" stroke="#000" stroke-width="4.7" stroke-linecap="butt"/><line x1="1762.02" y1="1402.50" x2="1780.02" y2="1402.50" stroke="#000" stroke-width="4.7" stroke-linecap="butt"/><rect x="1788.25" y="1386.50" width="22.30" height="223.10" fill="#fff" stroke="#000" stroke-width="4.1"/><line x1="1799.40" y1="1376.50" x2="1799.40" y2="1396.00" stroke="#000" stroke-width="4.7" stroke-linecap="butt"/><line x1="1790.40" y1="1376.50" x2="1808.40" y2="1376.50" stroke="#000" stroke-width="4.7" stroke-linecap="butt"/><line x1="1790.40" y1="1396.00" x2="1808.40" y2="1396.00" stroke="#000" stroke-width="4.7" stroke-linecap="butt"/><rect x="1816.63" y="1372.00" width="22.30" height="237.60" fill="#fff" stroke="#000" stroke-width="4.1"/><line x1="1827.78" y1="1359.00" x2="1827.78" y2="1384.50" stroke="#000" stroke-width="4.7" stroke-linecap="butt"/><line x1="1818.78" y1="1359.00" x2="1836.78" y2="1359.00" stroke="#000" stroke-width="4.7" stroke-linecap="butt"/><line x1="1818.78" y1="1384.50" x2="1836.78" y2="1384.50" stroke="#000" stroke-width="4.7" stroke-linecap="butt"/><rect x="1845.01" y="1338.50" width="22.30" height="271.10" fill="#fff" stroke="#000" stroke-width="4.1"/><line x1="1856.16" y1="1330.50" x2="1856.16" y2="1346.00" stroke="#000" stroke-width="4.7" stroke-linecap="butt"/><line x1="1847.16" y1="1330.50" x2="1865.16" y2="1330.50" stroke="#000" stroke-width="4.7" stroke-linecap="butt"/><line x1="1847.16" y1="1346.00" x2="1865.16" y2="1346.00" stroke="#000" stroke-width="4.7" stroke-linecap="butt"/><rect x="1873.39" y="1334.00" width="22.30" height="275.60" fill="#fff" stroke="#000" stroke-width="4.1"/><line x1="1884.54" y1="1331.00" x2="1884.54" y2="1337.00" stroke="#000" stroke-width="4.7" stroke-linecap="butt"/><line x1="1875.54" y1="1331.00" x2="1893.54" y2="1331.00" stroke="#000" stroke-width="4.7" stroke-linecap="butt"/><line x1="1875.54" y1="1337.00" x2="1893.54" y2="1337.00" stroke="#000" stroke-width="4.7" stroke-linecap="butt"/><rect x="1901.77" y="1322.50" width="22.30" height="287.10" fill="#fff" stroke="#000" stroke-width="4.1"/><line x1="1912.92" y1="1282.00" x2="1912.92" y2="1361.50" stroke="#000" stroke-width="4.7" stroke-linecap="butt"/><line x1="1903.92" y1="1282.00" x2="1921.92" y2="1282.00" stroke="#000" stroke-width="4.7" stroke-linecap="butt"/><line x1="1903.92" y1="1361.50" x2="1921.92" y2="1361.50" stroke="#000" stroke-width="4.7" stroke-linecap="butt"/><rect x="1930.15" y="1318.00" width="22.30" height="291.60" fill="#fff" stroke="#000" stroke-width="4.1"/><line x1="1941.30" y1="1311.50" x2="1941.30" y2="1325.00" stroke="#000" stroke-width="4.7" stroke-linecap="butt"/><line x1="1932.30" y1="1311.50" x2="1950.30" y2="1311.50" stroke="#000" stroke-width="4.7" stroke-linecap="butt"/><line x1="1932.30" y1="1325.00" x2="1950.30" y2="1325.00" stroke="#000" stroke-width="4.7" stroke-linecap="butt"/><rect x="1958.53" y="1317.50" width="22.30" height="292.10" fill="#fff" stroke="#000" stroke-width="4.1"/><line x1="1969.68" y1="1308.50" x2="1969.68" y2="1326.50" stroke="#000" stroke-width="4.7" stroke-linecap="butt"/><line x1="1960.68" y1="1308.50" x2="1978.68" y2="1308.50" stroke="#000" stroke-width="4.7" stroke-linecap="butt"/><line x1="1960.68" y1="1326.50" x2="1978.68" y2="1326.50" stroke="#000" stroke-width="4.7" stroke-linecap="butt"/><rect x="1986.91" y="1311.00" width="22.30" height="298.60" fill="#fff" stroke="#000" stroke-width="4.1"/><line x1="1998.06" y1="1290.00" x2="1998.06" y2="1331.00" stroke="#000" stroke-width="4.7" stroke-linecap="butt"/><line x1="1989.06" y1="1290.00" x2="2007.06" y2="1290.00" stroke="#000" stroke-width="4.7" stroke-linecap="butt"/><line x1="1989.06" y1="1331.00" x2="2007.06" y2="1331.00" stroke="#000" stroke-width="4.7" stroke-linecap="butt"/><rect x="2015.29" y="1309.00" width="22.30" height="300.60" fill="#fff" stroke="#000" stroke-width="4.1"/><line x1="2026.44" y1="1274.50" x2="2026.44" y2="1342.00" stroke="#000" stroke-width="4.7" stroke-linecap="butt"/><line x1="2017.44" y1="1274.50" x2="2035.44" y2="1274.50" stroke="#000" stroke-width="4.7" stroke-linecap="butt"/><line x1="2017.44" y1="1342.00" x2="2035.44" y2="1342.00" stroke="#000" stroke-width="4.7" stroke-linecap="butt"/><rect x="2043.67" y="1302.00" width="22.30" height="307.60" fill="#fff" stroke="#000" stroke-width="4.1"/><line x1="2054.82" y1="1299.50" x2="2054.82" y2="1304.50" stroke="#000" stroke-width="4.7" stroke-linecap="butt"/><line x1="2045.82" y1="1299.50" x2="2063.82" y2="1299.50" stroke="#000" stroke-width="4.7" stroke-linecap="butt"/><line x1="2045.82" y1="1304.50" x2="2063.82" y2="1304.50" stroke="#000" stroke-width="4.7" stroke-linecap="butt"/><rect x="2072.05" y="1301.50" width="22.30" height="308.10" fill="#fff" stroke="#000" stroke-width="4.1"/><line x1="2083.20" y1="1283.00" x2="2083.20" y2="1319.50" stroke="#000" stroke-width="4.7" stroke-linecap="butt"/><line x1="2074.20" y1="1283.00" x2="2092.20" y2="1283.00" stroke="#000" stroke-width="4.7" stroke-linecap="butt"/><line x1="2074.20" y1="1319.50" x2="2092.20" y2="1319.50" stroke="#000" stroke-width="4.7" stroke-linecap="butt"/><rect x="2100.43" y="1275.00" width="22.30" height="334.60" fill="#fff" stroke="#000" stroke-width="4.1"/><line x1="2111.58" y1="1263.50" x2="2111.58" y2="1285.50" stroke="#000" stroke-width="4.7" stroke-linecap="butt"/><line x1="2102.58" y1="1263.50" x2="2120.58" y2="1263.50" stroke="#000" stroke-width="4.7" stroke-linecap="butt"/><line x1="2102.58" y1="1285.50" x2="2120.58" y2="1285.50" stroke="#000" stroke-width="4.7" stroke-linecap="butt"/><rect x="2128.81" y="1272.50" width="22.30" height="337.10" fill="#fff" stroke="#000" stroke-width="4.1"/><line x1="2139.96" y1="1261.00" x2="2139.96" y2="1283.50" stroke="#000" stroke-width="4.7" stroke-linecap="butt"/><line x1="2130.96" y1="1261.00" x2="2148.96" y2="1261.00" stroke="#000" stroke-width="4.7" stroke-linecap="butt"/><line x1="2130.96" y1="1283.50" x2="2148.96" y2="1283.50" stroke="#000" stroke-width="4.7" stroke-linecap="butt"/><rect x="2157.19" y="1272.50" width="22.30" height="337.10" fill="#fff" stroke="#000" stroke-width="4.1"/><line x1="2168.34" y1="1265.00" x2="2168.34" y2="1280.00" stroke="#000" stroke-width="4.7" stroke-linecap="butt"/><line x1="2159.34" y1="1265.00" x2="2177.34" y2="1265.00" stroke="#000" stroke-width="4.7" stroke-linecap="butt"/><line x1="2159.34" y1="1280.00" x2="2177.34" y2="1280.00" stroke="#000" stroke-width="4.7" stroke-linecap="butt"/><rect x="2185.57" y="1272.00" width="22.30" height="337.60" fill="#fff" stroke="#000" stroke-width="4.1"/><rect x="2213.95" y="1269.50" width="22.30" height="340.10" fill="#fff" stroke="#000" stroke-width="4.1"/><line x1="2225.10" y1="1258.50" x2="2225.10" y2="1280.50" stroke="#000" stroke-width="4.7" stroke-linecap="butt"/><line x1="2216.10" y1="1258.50" x2="2234.10" y2="1258.50" stroke="#000" stroke-width="4.7" stroke-linecap="butt"/><line x1="2216.10" y1="1280.50" x2="2234.10" y2="1280.50" stroke="#000" stroke-width="4.7" stroke-linecap="butt"/><rect x="2242.33" y="1241.50" width="22.30" height="368.10" fill="#fff" stroke="#000" stroke-width="4.1"/><line x1="2253.48" y1="1225.00" x2="2253.48" y2="1257.50" stroke="#000" stroke-width="4.7" stroke-linecap="butt"/><line x1="2244.48" y1="1225.00" x2="2262.48" y2="1225.00" stroke="#000" stroke-width="4.7" stroke-linecap="butt"/><line x1="2244.48" y1="1257.50" x2="2262.48" y2="1257.50" stroke="#000" stroke-width="4.7" stroke-linecap="butt"/><rect x="2270.71" y="1173.00" width="22.30" height="436.60" fill="#fff" stroke="#000" stroke-width="4.1"/><line x1="2281.86" y1="1162.50" x2="2281.86" y2="1182.50" stroke="#000" stroke-width="4.7" stroke-linecap="butt"/><line x1="2272.86" y1="1162.50" x2="2290.86" y2="1162.50" stroke="#000" stroke-width="4.7" stroke-linecap="butt"/><line x1="2272.86" y1="1182.50" x2="2290.86" y2="1182.50" stroke="#000" stroke-width="4.7" stroke-linecap="butt"/><rect x="2299.09" y="1090.00" width="22.30" height="519.60" fill="#fff" stroke="#000" stroke-width="4.1"/><line x1="2310.24" y1="1071.50" x2="2310.24" y2="1108.00" stroke="#000" stroke-width="4.7" stroke-linecap="butt"/><line x1="2301.24" y1="1071.50" x2="2319.24" y2="1071.50" stroke="#000" stroke-width="4.7" stroke-linecap="butt"/><line x1="2301.24" y1="1108.00" x2="2319.24" y2="1108.00" stroke="#000" stroke-width="4.7" stroke-linecap="butt"/><rect x="2327.47" y="1039.00" width="22.30" height="570.60" fill="#fff" stroke="#000" stroke-width="4.1"/><line x1="2338.62" y1="1012.50" x2="2338.62" y2="1064.00" stroke="#000" stroke-width="4.7" stroke-linecap="butt"/><line x1="2329.62" y1="1012.50" x2="2347.62" y2="1012.50" stroke="#000" stroke-width="4.7" stroke-linecap="butt"/><line x1="2329.62" y1="1064.00" x2="2347.62" y2="1064.00" stroke="#000" stroke-width="4.7" stroke-linecap="butt"/><line x1="1488.70" y1="1609.60" x2="2354.40" y2="1609.60" stroke="#000" stroke-width="5.4" stroke-linecap="butt"/><line x1="1515.60" y1="1609.60" x2="1515.60" y2="1623.30" stroke="#000" stroke-width="4.8" stroke-linecap="butt"/><line x1="1543.98" y1="1609.60" x2="1543.98" y2="1623.30" stroke="#000" stroke-width="4.8" stroke-linecap="butt"/><line x1="1572.36" y1="1609.60" x2="1572.36" y2="1623.30" stroke="#000" stroke-width="4.8" stroke-linecap="butt"/><line x1="1600.74" y1="1609.60" x2="1600.74" y2="1623.30" stroke="#000" stroke-width="4.8" stroke-linecap="butt"/><line x1="1629.12" y1="1609.60" x2="1629.12" y2="1623.30" stroke="#000" stroke-width="4.8" stroke-linecap="butt"/><line x1="1657.50" y1="1609.60" x2="1657.50" y2="1623.30" stroke="#000" stroke-width="4.8" stroke-linecap="butt"/><line x1="1685.88" y1="1609.60" x2="1685.88" y2="1623.30" stroke="#000" stroke-width="4.8" stroke-linecap="butt"/><line x1="1714.26" y1="1609.60" x2="1714.26" y2="1623.30" stroke="#000" stroke-width="4.8" stroke-linecap="butt"/><line x1="1742.64" y1="1609.60" x2="1742.64" y2="1623.30" stroke="#000" stroke-width="4.8" stroke-linecap="butt"/><line x1="1771.02" y1="1609.60" x2="1771.02" y2="1623.30" stroke="#000" stroke-width="4.8" stroke-linecap="butt"/><line x1="1799.40" y1="1609.60" x2="1799.40" y2="1623.30" stroke="#000" stroke-width="4.8" stroke-linecap="butt"/><line x1="1827.78" y1="1609.60" x2="1827.78" y2="1623.30" stroke="#000" stroke-width="4.8" stroke-linecap="butt"/><line x1="1856.16" y1="1609.60" x2="1856.16" y2="1623.30" stroke="#000" stroke-width="4.8" stroke-linecap="butt"/><line x1="1884.54" y1="1609.60" x2="1884.54" y2="1623.30" stroke="#000" stroke-width="4.8" stroke-linecap="butt"/><line x1="1912.92" y1="1609.60" x2="1912.92" y2="1623.30" stroke="#000" stroke-width="4.8" stroke-linecap="butt"/><line x1="1941.30" y1="1609.60" x2="1941.30" y2="1623.30" stroke="#000" stroke-width="4.8" stroke-linecap="butt"/><line x1="1969.68" y1="1609.60" x2="1969.68" y2="1623.30" stroke="#000" stroke-width="4.8" stroke-linecap="butt"/><line x1="1998.06" y1="1609.60" x2="1998.06" y2="1623.30" stroke="#000" stroke-width="4.8" stroke-linecap="butt"/><line x1="2026.44" y1="1609.60" x2="2026.44" y2="1623.30" stroke="#000" stroke-width="4.8" stroke-linecap="butt"/><line x1="2054.82" y1="1609.60" x2="2054.82" y2="1623.30" stroke="#000" stroke-width="4.8" stroke-linecap="butt"/><line x1="2083.20" y1="1609.60" x2="2083.20" y2="1623.30" stroke="#000" stroke-width="4.8" stroke-linecap="butt"/><line x1="2111.58" y1="1609.60" x2="2111.58" y2="1623.30" stroke="#000" stroke-width="4.8" stroke-linecap="butt"/><line x1="2139.96" y1="1609.60" x2="2139.96" y2="1623.30" stroke="#000" stroke-width="4.8" stroke-linecap="butt"/><line x1="2168.34" y1="1609.60" x2="2168.34" y2="1623.30" stroke="#000" stroke-width="4.8" stroke-linecap="butt"/><line x1="2196.72" y1="1609.60" x2="2196.72" y2="1623.30" stroke="#000" stroke-width="4.8" stroke-linecap="butt"/><line x1="2225.10" y1="1609.60" x2="2225.10" y2="1623.30" stroke="#000" stroke-width="4.8" stroke-linecap="butt"/><line x1="2253.48" y1="1609.60" x2="2253.48" y2="1623.30" stroke="#000" stroke-width="4.8" stroke-linecap="butt"/><line x1="2281.86" y1="1609.60" x2="2281.86" y2="1623.30" stroke="#000" stroke-width="4.8" stroke-linecap="butt"/><line x1="2310.24" y1="1609.60" x2="2310.24" y2="1623.30" stroke="#000" stroke-width="4.8" stroke-linecap="butt"/><line x1="2338.62" y1="1609.60" x2="2338.62" y2="1623.30" stroke="#000" stroke-width="4.8" stroke-linecap="butt"/><line x1="1502.20" y1="920.00" x2="1502.20" y2="1612.30" stroke="#000" stroke-width="5.4" stroke-linecap="butt"/><line x1="1489.00" y1="1609.10" x2="1502.20" y2="1609.10" stroke="#000" stroke-width="5.2" stroke-linecap="butt"/><line x1="1495.70" y1="1540.46" x2="1502.20" y2="1540.46" stroke="#000" stroke-width="5.0" stroke-linecap="butt"/><line x1="1489.00" y1="1471.82" x2="1502.20" y2="1471.82" stroke="#000" stroke-width="5.2" stroke-linecap="butt"/><line x1="1495.70" y1="1403.18" x2="1502.20" y2="1403.18" stroke="#000" stroke-width="5.0" stroke-linecap="butt"/><line x1="1489.00" y1="1334.54" x2="1502.20" y2="1334.54" stroke="#000" stroke-width="5.2" stroke-linecap="butt"/><line x1="1495.70" y1="1265.90" x2="1502.20" y2="1265.90" stroke="#000" stroke-width="5.0" stroke-linecap="butt"/><line x1="1489.00" y1="1197.26" x2="1502.20" y2="1197.26" stroke="#000" stroke-width="5.2" stroke-linecap="butt"/><line x1="1495.70" y1="1128.62" x2="1502.20" y2="1128.62" stroke="#000" stroke-width="5.0" stroke-linecap="butt"/><line x1="1489.00" y1="1059.98" x2="1502.20" y2="1059.98" stroke="#000" stroke-width="5.2" stroke-linecap="butt"/><line x1="1495.70" y1="991.34" x2="1502.20" y2="991.34" stroke="#000" stroke-width="5.0" stroke-linecap="butt"/><line x1="1489.00" y1="922.70" x2="1502.20" y2="922.70" stroke="#000" stroke-width="5.2" stroke-linecap="butt"/><text transform="translate(1479.50 1623.68) scale(0.9460 1)" font-size="48" text-anchor="end" font-weight="normal" font-style="normal" fill="#000">0.00</text><text transform="translate(1479.50 1486.40) scale(0.9460 1)" font-size="48" text-anchor="end" font-weight="normal" font-style="normal" fill="#000">0.03</text><text transform="translate(1479.50 1349.12) scale(0.9460 1)" font-size="48" text-anchor="end" font-weight="normal" font-style="normal" fill="#000">0.06</text><text transform="translate(1479.50 1211.84) scale(0.9460 1)" font-size="48" text-anchor="end" font-weight="normal" font-style="normal" fill="#000">0.09</text><text transform="translate(1479.50 1074.56) scale(0.9460 1)" font-size="48" text-anchor="end" font-weight="normal" font-style="normal" fill="#000">0.12</text><text transform="translate(1479.50 937.28) scale(0.9460 1)" font-size="48" text-anchor="end" font-weight="normal" font-style="normal" fill="#000">0.15</text><text transform="translate(1527.06 1631.80) scale(1.0850 1) rotate(-90)" font-size="32" text-anchor="end" font-weight="bold" font-style="normal" fill="#000">S13</text><text transform="translate(1555.44 1631.80) scale(1.0850 1) rotate(-90)" font-size="32" text-anchor="end" font-weight="bold" font-style="normal" fill="#000">S24</text><text transform="translate(1583.82 1631.80) scale(1.0850 1) rotate(-90)" font-size="32" text-anchor="end" font-weight="bold" font-style="normal" fill="#000">S7</text><text transform="translate(1612.20 1631.80) scale(1.0850 1) rotate(-90)" font-size="32" text-anchor="end" font-weight="bold" font-style="normal" fill="#000">S9</text><text transform="translate(1640.58 1631.80) scale(1.0850 1) rotate(-90)" font-size="32" text-anchor="end" font-weight="bold" font-style="normal" fill="#000">S12</text><text transform="translate(1668.96 1631.80) scale(1.0850 1) rotate(-90)" font-size="32" text-anchor="end" font-weight="bold" font-style="normal" fill="#000">S25</text><text transform="translate(1697.34 1631.80) scale(1.0850 1) rotate(-90)" font-size="32" text-anchor="end" font-weight="bold" font-style="normal" fill="#000">S29</text><text transform="translate(1725.72 1631.80) scale(1.0850 1) rotate(-90)" font-size="32" text-anchor="end" font-weight="bold" font-style="normal" fill="#000">S1</text><text transform="translate(1754.10 1631.80) scale(1.0850 1) rotate(-90)" font-size="32" text-anchor="end" font-weight="bold" font-style="normal" fill="#000">S19</text><text transform="translate(1782.48 1631.80) scale(1.0850 1) rotate(-90)" font-size="32" text-anchor="end" font-weight="bold" font-style="normal" fill="#000">S8</text><text transform="translate(1810.86 1631.80) scale(1.0850 1) rotate(-90)" font-size="32" text-anchor="end" font-weight="bold" font-style="normal" fill="#000">S10</text><text transform="translate(1839.24 1631.80) scale(1.0850 1) rotate(-90)" font-size="32" text-anchor="end" font-weight="bold" font-style="normal" fill="#000">S5</text><text transform="translate(1867.62 1631.80) scale(1.0850 1) rotate(-90)" font-size="32" text-anchor="end" font-weight="bold" font-style="normal" fill="#000">S27</text><text transform="translate(1896.00 1631.80) scale(1.0850 1) rotate(-90)" font-size="32" text-anchor="end" font-weight="bold" font-style="normal" fill="#000">S26</text><text transform="translate(1924.38 1631.80) scale(1.0850 1) rotate(-90)" font-size="32" text-anchor="end" font-weight="bold" font-style="normal" fill="#000">S11</text><text transform="translate(1952.76 1631.80) scale(1.0850 1) rotate(-90)" font-size="32" text-anchor="end" font-weight="bold" font-style="normal" fill="#000">S14</text><text transform="translate(1981.14 1631.80) scale(1.0850 1) rotate(-90)" font-size="32" text-anchor="end" font-weight="bold" font-style="normal" fill="#000">S16</text><text transform="translate(2009.52 1631.80) scale(1.0850 1) rotate(-90)" font-size="32" text-anchor="end" font-weight="bold" font-style="normal" fill="#000">S3</text><text transform="translate(2037.90 1631.80) scale(1.0850 1) rotate(-90)" font-size="32" text-anchor="end" font-weight="bold" font-style="normal" fill="#000">S17</text><text transform="translate(2066.28 1631.80) scale(1.0850 1) rotate(-90)" font-size="32" text-anchor="end" font-weight="bold" font-style="normal" fill="#000">S15</text><text transform="translate(2094.66 1631.80) scale(1.0850 1) rotate(-90)" font-size="32" text-anchor="end" font-weight="bold" font-style="normal" fill="#000">S23</text><text transform="translate(2123.04 1631.80) scale(1.0850 1) rotate(-90)" font-size="32" text-anchor="end" font-weight="bold" font-style="normal" fill="#000">S2</text><text transform="translate(2151.42 1631.80) scale(1.0850 1) rotate(-90)" font-size="32" text-anchor="end" font-weight="bold" font-style="normal" fill="#000">S21</text><text transform="translate(2179.80 1631.80) scale(1.0850 1) rotate(-90)" font-size="32" text-anchor="end" font-weight="bold" font-style="normal" fill="#000">S6</text><text transform="translate(2208.18 1631.80) scale(1.0850 1) rotate(-90)" font-size="32" text-anchor="end" font-weight="bold" font-style="normal" fill="#000">S4</text><text transform="translate(2236.56 1631.80) scale(1.0850 1) rotate(-90)" font-size="32" text-anchor="end" font-weight="bold" font-style="normal" fill="#000">S18</text><text transform="translate(2264.94 1631.80) scale(1.0850 1) rotate(-90)" font-size="32" text-anchor="end" font-weight="bold" font-style="normal" fill="#000">S28</text><text transform="translate(2293.32 1631.80) scale(1.0850 1) rotate(-90)" font-size="32" text-anchor="end" font-weight="bold" font-style="normal" fill="#000">S30</text><text transform="translate(2321.70 1631.80) scale(1.0850 1) rotate(-90)" font-size="32" text-anchor="end" font-weight="bold" font-style="normal" fill="#000">S22</text><text transform="translate(2350.08 1631.80) scale(1.0850 1) rotate(-90)" font-size="32" text-anchor="end" font-weight="bold" font-style="normal" fill="#000">S20</text><text transform="translate(1322.00 1288.00) scale(0.9460 1) rotate(-90)" font-size="45.4" text-anchor="middle" font-weight="normal" font-style="normal" fill="#000">Cd transport coefficient</text><text transform="translate(1310.60 971.20)" font-size="57" text-anchor="start" font-weight="normal" font-style="normal" fill="#000">d</text><line x1="268.30" y1="1800.70" x2="268.30" y2="2517.90" stroke="#000" stroke-width="5.4" stroke-linecap="butt"/><line x1="265.60" y1="2515.20" x2="1168.70" y2="2515.20" stroke="#000" stroke-width="5.4" stroke-linecap="butt"/><line x1="396.60" y1="2515.20" x2="396.60" y2="2503.70" stroke="#000" stroke-width="5" stroke-linecap="butt"/><line x1="524.90" y1="2515.20" x2="524.90" y2="2503.70" stroke="#000" stroke-width="5" stroke-linecap="butt"/><line x1="653.20" y1="2515.20" x2="653.20" y2="2503.70" stroke="#000" stroke-width="5" stroke-linecap="butt"/><line x1="781.50" y1="2515.20" x2="781.50" y2="2503.70" stroke="#000" stroke-width="5" stroke-linecap="butt"/><line x1="909.80" y1="2515.20" x2="909.80" y2="2503.70" stroke="#000" stroke-width="5" stroke-linecap="butt"/><line x1="1038.10" y1="2515.20" x2="1038.10" y2="2503.70" stroke="#000" stroke-width="5" stroke-linecap="butt"/><line x1="1166.40" y1="2515.20" x2="1166.40" y2="2503.70" stroke="#000" stroke-width="5" stroke-linecap="butt"/><text transform="translate(229.60 1815.51) scale(0.9400 1)" font-size="46" text-anchor="end" font-weight="bold" font-style="normal" fill="#565656">180</text><text transform="translate(229.60 2054.21) scale(0.9400 1)" font-size="46" text-anchor="end" font-weight="bold" font-style="normal" fill="#565656">130</text><text transform="translate(229.60 2292.81) scale(0.9400 1)" font-size="46" text-anchor="end" font-weight="bold" font-style="normal" fill="#565656">80</text><text transform="translate(229.60 2531.51) scale(0.9400 1)" font-size="46" text-anchor="end" font-weight="bold" font-style="normal" fill="#565656">30</text><text transform="translate(266.90 2583.00) scale(0.9400 1)" font-size="46" text-anchor="middle" font-weight="bold" font-style="normal" fill="#565656">0</text><text transform="translate(395.20 2583.00) scale(0.9400 1)" font-size="46" text-anchor="middle" font-weight="bold" font-style="normal" fill="#565656">1000</text><text transform="translate(523.50 2583.00) scale(0.9400 1)" font-size="46" text-anchor="middle" font-weight="bold" font-style="normal" fill="#565656">2000</text><text transform="translate(651.80 2583.00) scale(0.9400 1)" font-size="46" text-anchor="middle" font-weight="bold" font-style="normal" fill="#565656">3000</text><text transform="translate(780.10 2583.00) scale(0.9400 1)" font-size="46" text-anchor="middle" font-weight="bold" font-style="normal" fill="#565656">4000</text><text transform="translate(908.40 2583.00) scale(0.9400 1)" font-size="46" text-anchor="middle" font-weight="bold" font-style="normal" fill="#565656">5000</text><text transform="translate(1036.70 2583.00) scale(0.9400 1)" font-size="46" text-anchor="middle" font-weight="bold" font-style="normal" fill="#565656">6000</text><text transform="translate(1165.00 2583.00) scale(0.9400 1)" font-size="46" text-anchor="middle" font-weight="bold" font-style="normal" fill="#565656">7000</text><circle cx="637.50" cy="1960.50" r="13.2" fill="#000"/><circle cx="637.50" cy="1960.50" r="4" fill="none" stroke="#3a3a3a" stroke-width="1.3"/><circle cx="558.00" cy="2024.50" r="13.2" fill="#000"/><circle cx="558.00" cy="2024.50" r="4" fill="none" stroke="#3a3a3a" stroke-width="1.3"/><circle cx="631.50" cy="2050.00" r="13.2" fill="#000"/><circle cx="631.50" cy="2050.00" r="4" fill="none" stroke="#3a3a3a" stroke-width="1.3"/><circle cx="727.00" cy="2042.00" r="13.2" fill="#000"/><circle cx="727.00" cy="2042.00" r="4" fill="none" stroke="#3a3a3a" stroke-width="1.3"/><circle cx="666.00" cy="2139.50" r="13.2" fill="#000"/><circle cx="666.00" cy="2139.50" r="4" fill="none" stroke="#3a3a3a" stroke-width="1.3"/><circle cx="541.00" cy="2149.00" r="13.2" fill="#000"/><circle cx="541.00" cy="2149.00" r="4" fill="none" stroke="#3a3a3a" stroke-width="1.3"/><circle cx="631.50" cy="2156.00" r="13.2" fill="#000"/><circle cx="631.50" cy="2156.00" r="4" fill="none" stroke="#3a3a3a" stroke-width="1.3"/><circle cx="672.00" cy="2184.00" r="13.2" fill="#000"/><circle cx="672.00" cy="2184.00" r="4" fill="none" stroke="#3a3a3a" stroke-width="1.3"/><circle cx="694.00" cy="2187.00" r="13.2" fill="#000"/><circle cx="694.00" cy="2187.00" r="4" fill="none" stroke="#3a3a3a" stroke-width="1.3"/><circle cx="735.50" cy="2175.00" r="13.2" fill="#000"/><circle cx="735.50" cy="2175.00" r="4" fill="none" stroke="#3a3a3a" stroke-width="1.3"/><circle cx="799.50" cy="2166.00" r="13.2" fill="#000"/><circle cx="799.50" cy="2166.00" r="4" fill="none" stroke="#3a3a3a" stroke-width="1.3"/><circle cx="843.00" cy="2194.50" r="13.2" fill="#000"/><circle cx="843.00" cy="2194.50" r="4" fill="none" stroke="#3a3a3a" stroke-width="1.3"/><circle cx="1125.50" cy="2175.50" r="13.2" fill="#000"/><circle cx="1125.50" cy="2175.50" r="4" fill="none" stroke="#3a3a3a" stroke-width="1.3"/><circle cx="508.50" cy="2221.00" r="13.2" fill="#000"/><circle cx="508.50" cy="2221.00" r="4" fill="none" stroke="#3a3a3a" stroke-width="1.3"/><circle cx="517.50" cy="2228.00" r="13.2" fill="#000"/><circle cx="517.50" cy="2228.00" r="4" fill="none" stroke="#3a3a3a" stroke-width="1.3"/><circle cx="494.50" cy="2244.00" r="13.2" fill="#000"/><circle cx="494.50" cy="2244.00" r="4" fill="none" stroke="#3a3a3a" stroke-width="1.3"/><circle cx="659.00" cy="2236.50" r="13.2" fill="#000"/><circle cx="659.00" cy="2236.50" r="4" fill="none" stroke="#3a3a3a" stroke-width="1.3"/><circle cx="809.00" cy="2212.50" r="13.2" fill="#000"/><circle cx="809.00" cy="2212.50" r="4" fill="none" stroke="#3a3a3a" stroke-width="1.3"/><circle cx="772.50" cy="2232.00" r="13.2" fill="#000"/><circle cx="772.50" cy="2232.00" r="4" fill="none" stroke="#3a3a3a" stroke-width="1.3"/><circle cx="656.00" cy="2256.50" r="13.2" fill="#000"/><circle cx="656.00" cy="2256.50" r="4" fill="none" stroke="#3a3a3a" stroke-width="1.3"/><circle cx="669.00" cy="2255.50" r="13.2" fill="#000"/><circle cx="669.00" cy="2255.50" r="4" fill="none" stroke="#3a3a3a" stroke-width="1.3"/><circle cx="704.50" cy="2251.00" r="13.2" fill="#000"/><circle cx="704.50" cy="2251.00" r="4" fill="none" stroke="#3a3a3a" stroke-width="1.3"/><circle cx="716.50" cy="2263.50" r="13.2" fill="#000"/><circle cx="716.50" cy="2263.50" r="4" fill="none" stroke="#3a3a3a" stroke-width="1.3"/><circle cx="832.00" cy="2260.00" r="13.2" fill="#000"/><circle cx="832.00" cy="2260.00" r="4" fill="none" stroke="#3a3a3a" stroke-width="1.3"/><circle cx="878.50" cy="2247.00" r="13.2" fill="#000"/><circle cx="878.50" cy="2247.00" r="4" fill="none" stroke="#3a3a3a" stroke-width="1.3"/><circle cx="651.50" cy="2293.50" r="13.2" fill="#000"/><circle cx="651.50" cy="2293.50" r="4" fill="none" stroke="#3a3a3a" stroke-width="1.3"/><circle cx="511.50" cy="2364.50" r="13.2" fill="#000"/><circle cx="511.50" cy="2364.50" r="4" fill="none" stroke="#3a3a3a" stroke-width="1.3"/><circle cx="718.00" cy="2361.50" r="13.2" fill="#000"/><circle cx="718.00" cy="2361.50" r="4" fill="none" stroke="#3a3a3a" stroke-width="1.3"/><circle cx="547.50" cy="2410.50" r="13.2" fill="#000"/><circle cx="547.50" cy="2410.50" r="4" fill="none" stroke="#3a3a3a" stroke-width="1.3"/><circle cx="456.00" cy="2423.50" r="13.2" fill="#000"/><circle cx="456.00" cy="2423.50" r="4" fill="none" stroke="#3a3a3a" stroke-width="1.3"/><line x1="366.50" y1="2251.00" x2="1140.00" y2="2155.50" stroke="#000" stroke-width="7.6" stroke-linecap="round"/><text transform="translate(889.50 2408.30) scale(0.9400 1)" font-size="45.3" text-anchor="start" font-weight="bold" font-style="normal" fill="#000">r=0.163</text><text transform="translate(886.00 2459.60) scale(0.9400 1)" font-size="45.3" text-anchor="start" font-weight="bold" font-style="normal" fill="#000"><tspan font-style="italic">p</tspan> <tspan font-size="116%">&gt;</tspan> 0.05</text><text transform="translate(108.00 2249.00) rotate(-90)" font-size="43.7" text-anchor="middle" font-weight="bold" font-style="normal" fill="#565656">Cd content in shoots (μg·g<tspan font-size="62%" dy="-0.55em">-1</tspan><tspan dy="0.341em">)</tspan></text><text transform="translate(716.80 2639.00) scale(0.9400 1)" font-size="47" text-anchor="middle" font-weight="bold" font-style="normal" fill="#565656">Absorption of Cd per unit root (μg·g<tspan font-size="62%" dy="-0.55em">-1</tspan><tspan dy="0.341em">)</tspan></text><text transform="translate(80.70 1871.50)" font-size="63" text-anchor="start" font-weight="normal" font-style="normal" fill="#000">e</text><line x1="1500.60" y1="1830.70" x2="1500.60" y2="2516.80" stroke="#000" stroke-width="5.4" stroke-linecap="butt"/><line x1="1497.90" y1="2514.10" x2="2411.50" y2="2514.10" stroke="#000" stroke-width="5.4" stroke-linecap="butt"/><line x1="1802.90" y1="2514.10" x2="1802.90" y2="2502.10" stroke="#000" stroke-width="5" stroke-linecap="butt"/><line x1="2106.00" y1="2514.10" x2="2106.00" y2="2502.10" stroke="#000" stroke-width="5" stroke-linecap="butt"/><line x1="2409.00" y1="2514.10" x2="2409.00" y2="2502.10" stroke="#000" stroke-width="5" stroke-linecap="butt"/><line x1="1500.60" y1="1833.30" x2="1512.60" y2="1833.30" stroke="#000" stroke-width="5" stroke-linecap="butt"/><line x1="1500.60" y1="2060.20" x2="1512.60" y2="2060.20" stroke="#000" stroke-width="5" stroke-linecap="butt"/><line x1="1500.60" y1="2287.10" x2="1512.60" y2="2287.10" stroke="#000" stroke-width="5" stroke-linecap="butt"/><text transform="translate(1462.60 1847.91) scale(0.9400 1)" font-size="46" text-anchor="end" font-weight="bold" font-style="normal" fill="#565656">180</text><text transform="translate(1462.60 2074.81) scale(0.9400 1)" font-size="46" text-anchor="end" font-weight="bold" font-style="normal" fill="#565656">130</text><text transform="translate(1462.60 2301.71) scale(0.9400 1)" font-size="46" text-anchor="end" font-weight="bold" font-style="normal" fill="#565656">80</text><text transform="translate(1462.60 2528.61) scale(0.9400 1)" font-size="46" text-anchor="end" font-weight="bold" font-style="normal" fill="#565656">30</text><text transform="translate(1495.00 2582.70) scale(0.9400 1)" font-size="46" text-anchor="middle" font-weight="bold" font-style="normal" fill="#565656">0.00</text><text transform="translate(1797.50 2582.70) scale(0.9400 1)" font-size="46" text-anchor="middle" font-weight="bold" font-style="normal" fill="#565656">0.05</text><text transform="translate(2100.60 2582.70) scale(0.9400 1)" font-size="46" text-anchor="middle" font-weight="bold" font-style="normal" fill="#565656">0.10</text><text transform="translate(2403.70 2582.70) scale(0.9400 1)" font-size="46" text-anchor="middle" font-weight="bold" font-style="normal" fill="#565656">0.15</text><circle cx="2079.48" cy="1985.97" r="13.2" fill="#000"/><circle cx="2079.48" cy="1985.97" r="4" fill="none" stroke="#3a3a3a" stroke-width="1.3"/><circle cx="2188.57" cy="2046.23" r="13.2" fill="#000"/><circle cx="2188.57" cy="2046.23" r="4" fill="none" stroke="#3a3a3a" stroke-width="1.3"/><circle cx="1900.26" cy="2071.17" r="13.2" fill="#000"/><circle cx="1900.26" cy="2071.17" r="4" fill="none" stroke="#3a3a3a" stroke-width="1.3"/><circle cx="1948.57" cy="2063.38" r="13.2" fill="#000"/><circle cx="1948.57" cy="2063.38" r="4" fill="none" stroke="#3a3a3a" stroke-width="1.3"/><circle cx="1701.82" cy="2156.88" r="13.2" fill="#000"/><circle cx="1701.82" cy="2156.88" r="4" fill="none" stroke="#3a3a3a" stroke-width="1.3"/><circle cx="1720.00" cy="2183.38" r="13.2" fill="#000"/><circle cx="1720.00" cy="2183.38" r="4" fill="none" stroke="#3a3a3a" stroke-width="1.3"/><circle cx="1726.23" cy="2190.65" r="13.2" fill="#000"/><circle cx="1726.23" cy="2190.65" r="4" fill="none" stroke="#3a3a3a" stroke-width="1.3"/><circle cx="1727.27" cy="2209.87" r="13.2" fill="#000"/><circle cx="1727.27" cy="2209.87" r="4" fill="none" stroke="#3a3a3a" stroke-width="1.3"/><circle cx="1943.90" cy="2171.95" r="13.2" fill="#000"/><circle cx="1943.90" cy="2171.95" r="4" fill="none" stroke="#3a3a3a" stroke-width="1.3"/><circle cx="1908.57" cy="2190.13" r="13.2" fill="#000"/><circle cx="1908.57" cy="2190.13" r="4" fill="none" stroke="#3a3a3a" stroke-width="1.3"/><circle cx="1885.19" cy="2198.44" r="13.2" fill="#000"/><circle cx="1885.19" cy="2198.44" r="4" fill="none" stroke="#3a3a3a" stroke-width="1.3"/><circle cx="1895.58" cy="2201.56" r="13.2" fill="#000"/><circle cx="1895.58" cy="2201.56" r="4" fill="none" stroke="#3a3a3a" stroke-width="1.3"/><circle cx="2256.10" cy="2165.71" r="13.2" fill="#000"/><circle cx="2256.10" cy="2165.71" r="4" fill="none" stroke="#3a3a3a" stroke-width="1.3"/><circle cx="1780.78" cy="2225.45" r="13.2" fill="#000"/><circle cx="1780.78" cy="2225.45" r="4" fill="none" stroke="#3a3a3a" stroke-width="1.3"/><circle cx="1864.94" cy="2241.04" r="13.2" fill="#000"/><circle cx="1864.94" cy="2241.04" r="4" fill="none" stroke="#3a3a3a" stroke-width="1.3"/><circle cx="1987.53" cy="2234.29" r="13.2" fill="#000"/><circle cx="1987.53" cy="2234.29" r="4" fill="none" stroke="#3a3a3a" stroke-width="1.3"/><circle cx="1947.01" cy="2245.19" r="13.2" fill="#000"/><circle cx="1947.01" cy="2245.19" r="4" fill="none" stroke="#3a3a3a" stroke-width="1.3"/><circle cx="1950.65" cy="2257.14" r="13.2" fill="#000"/><circle cx="1950.65" cy="2257.14" r="4" fill="none" stroke="#3a3a3a" stroke-width="1.3"/><circle cx="1724.68" cy="2258.70" r="13.2" fill="#000"/><circle cx="1724.68" cy="2258.70" r="4" fill="none" stroke="#3a3a3a" stroke-width="1.3"/><circle cx="1681.56" cy="2271.69" r="13.2" fill="#000"/><circle cx="1681.56" cy="2271.69" r="4" fill="none" stroke="#3a3a3a" stroke-width="1.3"/><circle cx="1788.05" cy="2267.01" r="13.2" fill="#000"/><circle cx="1788.05" cy="2267.01" r="4" fill="none" stroke="#3a3a3a" stroke-width="1.3"/><circle cx="1795.84" cy="2261.30" r="13.2" fill="#000"/><circle cx="1795.84" cy="2261.30" r="4" fill="none" stroke="#3a3a3a" stroke-width="1.3"/><circle cx="1814.55" cy="2274.29" r="13.2" fill="#000"/><circle cx="1814.55" cy="2274.29" r="4" fill="none" stroke="#3a3a3a" stroke-width="1.3"/><circle cx="1860.26" cy="2268.05" r="13.2" fill="#000"/><circle cx="1860.26" cy="2268.05" r="4" fill="none" stroke="#3a3a3a" stroke-width="1.3"/><circle cx="1881.04" cy="2302.86" r="13.2" fill="#000"/><circle cx="1881.04" cy="2302.86" r="4" fill="none" stroke="#3a3a3a" stroke-width="1.3"/><circle cx="1774.03" cy="2368.31" r="13.2" fill="#000"/><circle cx="1774.03" cy="2368.31" r="4" fill="none" stroke="#3a3a3a" stroke-width="1.3"/><circle cx="1886.75" cy="2369.87" r="13.2" fill="#000"/><circle cx="1886.75" cy="2369.87" r="4" fill="none" stroke="#3a3a3a" stroke-width="1.3"/><circle cx="1744.42" cy="2414.55" r="13.2" fill="#000"/><circle cx="1744.42" cy="2414.55" r="4" fill="none" stroke="#3a3a3a" stroke-width="1.3"/><circle cx="1907.01" cy="2426.49" r="13.2" fill="#000"/><circle cx="1907.01" cy="2426.49" r="4" fill="none" stroke="#3a3a3a" stroke-width="1.3"/><line x1="1500.78" y1="2343.90" x2="2317.40" y2="2084.68" stroke="#000" stroke-width="7.6" stroke-linecap="round"/><text transform="translate(2083.10 2413.30) scale(0.9400 1)" font-size="45.3" text-anchor="start" font-weight="bold" font-style="normal" fill="#000">r=0.452*</text><text transform="translate(2079.00 2465.60) scale(0.9400 1)" font-size="45.3" text-anchor="start" font-weight="bold" font-style="normal" fill="#000"><tspan font-style="italic">p</tspan> <tspan font-size="116%">&lt;</tspan> 0.05</text><text transform="translate(1353.00 2232.40) rotate(-90)" font-size="44.3" text-anchor="middle" font-weight="bold" font-style="normal" fill="#565656">Cd content in shoots (μg·g<tspan font-size="62%" dy="-0.55em">-1</tspan><tspan dy="0.341em">)</tspan></text><text transform="translate(1972.80 2663.40) scale(0.9400 1)" font-size="47" text-anchor="middle" font-weight="bold" font-style="normal" fill="#565656">Cd transport coefficient</text><text transform="translate(1300.50 1884.00)" font-size="66" text-anchor="start" font-weight="normal" font-style="normal" fill="#000">f</text>
</g>
</svg>
</body>
</html>
